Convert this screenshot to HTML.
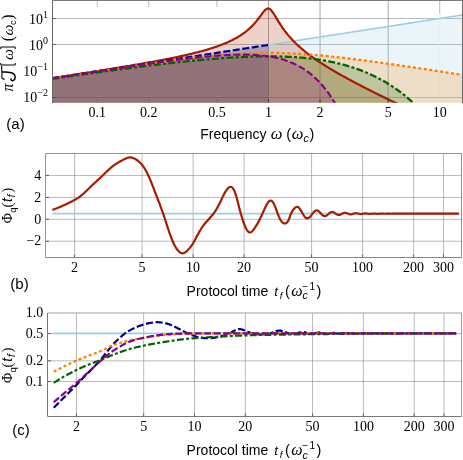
<!DOCTYPE html>
<html><head><meta charset="utf-8"><title>Spectral densities and protocol time</title>
<style>
html,body{margin:0;padding:0;background:#fff;}
body{width:463px;height:460px;overflow:hidden;font-family:"Liberation Sans",sans-serif;}
svg{display:block;will-change:transform;opacity:0.999;}
text{white-space:pre;}
</style></head>
<body>
<svg width="463" height="460" viewBox="0 0 463 460">
<rect x="0" y="0" width="463" height="460" fill="#fff"/>
<clipPath id="ca"><rect x="52.0" y="0.0" width="411.0" height="102.8"/></clipPath>
<line x1="52.5" x2="462.5" y1="18.5" y2="18.5" stroke="#8c8c8c" stroke-width="0.6"/>
<line x1="52.5" x2="462.5" y1="44.5" y2="44.5" stroke="#8c8c8c" stroke-width="0.6"/>
<line x1="52.5" x2="462.5" y1="97.5" y2="97.5" stroke="#8c8c8c" stroke-width="0.6"/>
<line x1="268.50" x2="268.50" y1="0.5" y2="102.8" stroke="#858585" stroke-width="0.7"/>
<line x1="320.04" x2="320.04" y1="0.5" y2="102.8" stroke="#858585" stroke-width="0.7"/>
<line x1="388.16" x2="388.16" y1="0.5" y2="102.8" stroke="#858585" stroke-width="0.7"/>
<line x1="439.70" x2="439.70" y1="0.5" y2="14" stroke="#8c8c8c" stroke-width="0.6"/>
<line x1="439.70" x2="439.70" y1="14" y2="102.8" stroke="#f2f2f2" stroke-width="0.6"/>
<line x1="97.30" x2="97.30" y1="0.5" y2="7" stroke="#8c8c8c" stroke-width="0.6"/>
<line x1="97.30" x2="97.30" y1="102.8" y2="99.3" stroke="#8c8c8c" stroke-width="0.6"/>
<line x1="148.84" x2="148.84" y1="0.5" y2="7" stroke="#8c8c8c" stroke-width="0.6"/>
<line x1="148.84" x2="148.84" y1="102.8" y2="99.3" stroke="#8c8c8c" stroke-width="0.6"/>
<line x1="216.96" x2="216.96" y1="0.5" y2="7" stroke="#8c8c8c" stroke-width="0.6"/>
<line x1="216.96" x2="216.96" y1="102.8" y2="99.3" stroke="#8c8c8c" stroke-width="0.6"/>
<path d="M52.5 102.8 V0.5 H462.5 V102.8" fill="none" stroke="#7c7c7c" stroke-width="1"/>
<g clip-path="url(#ca)">
<path d="M52.50 78.21 L53.79 78.01 L55.07 77.81 L56.36 77.61 L57.64 77.42 L58.93 77.22 L60.21 77.02 L61.50 76.82 L62.78 76.62 L64.07 76.42 L65.35 76.23 L66.64 76.03 L67.92 75.83 L69.21 75.63 L70.49 75.43 L71.78 75.24 L73.06 75.04 L74.35 74.84 L75.63 74.64 L76.92 74.44 L78.21 74.24 L79.49 74.05 L80.78 73.85 L82.06 73.65 L83.35 73.45 L84.63 73.25 L85.92 73.06 L87.20 72.86 L88.49 72.66 L89.77 72.46 L91.06 72.26 L92.34 72.06 L93.63 71.87 L94.91 71.67 L96.20 71.47 L97.48 71.27 L98.77 71.07 L100.05 70.88 L101.34 70.68 L102.63 70.48 L103.91 70.28 L105.20 70.08 L106.48 69.88 L107.77 69.69 L109.05 69.49 L110.34 69.29 L111.62 69.09 L112.91 68.89 L114.19 68.70 L115.48 68.50 L116.76 68.30 L118.05 68.10 L119.33 67.90 L120.62 67.70 L121.90 67.51 L123.19 67.31 L124.47 67.11 L125.76 66.91 L127.05 66.71 L128.33 66.51 L129.62 66.32 L130.90 66.12 L132.19 65.92 L133.47 65.72 L134.76 65.52 L136.04 65.33 L137.33 65.13 L138.61 64.93 L139.90 64.73 L141.18 64.53 L142.47 64.33 L143.75 64.14 L145.04 63.94 L146.32 63.74 L147.61 63.54 L148.89 63.34 L150.18 63.15 L151.47 62.95 L152.75 62.75 L154.04 62.55 L155.32 62.35 L156.61 62.15 L157.89 61.96 L159.18 61.76 L160.46 61.56 L161.75 61.36 L163.03 61.16 L164.32 60.97 L165.60 60.77 L166.89 60.57 L168.17 60.37 L169.46 60.17 L170.74 59.97 L172.03 59.78 L173.32 59.58 L174.60 59.38 L175.89 59.18 L177.17 58.98 L178.46 58.79 L179.74 58.59 L181.03 58.39 L182.31 58.19 L183.60 57.99 L184.88 57.79 L186.17 57.60 L187.45 57.40 L188.74 57.20 L190.02 57.00 L191.31 56.80 L192.59 56.61 L193.88 56.41 L195.16 56.21 L196.45 56.01 L197.74 55.81 L199.02 55.61 L200.31 55.42 L201.59 55.22 L202.88 55.02 L204.16 54.82 L205.45 54.62 L206.73 54.42 L208.02 54.23 L209.30 54.03 L210.59 53.83 L211.87 53.63 L213.16 53.43 L214.44 53.24 L215.73 53.04 L217.01 52.84 L218.30 52.64 L219.58 52.44 L220.87 52.24 L222.16 52.05 L223.44 51.85 L224.73 51.65 L226.01 51.45 L227.30 51.25 L228.58 51.06 L229.87 50.86 L231.15 50.66 L232.44 50.46 L233.72 50.26 L235.01 50.06 L236.29 49.87 L237.58 49.67 L238.86 49.47 L240.15 49.27 L241.43 49.07 L242.72 48.88 L244.00 48.68 L245.29 48.48 L246.58 48.28 L247.86 48.08 L249.15 47.88 L250.43 47.69 L251.72 47.49 L253.00 47.29 L254.29 47.09 L255.57 46.89 L256.86 46.70 L258.14 46.50 L259.43 46.30 L260.71 46.10 L262.00 45.90 L263.28 45.70 L264.57 45.51 L265.85 45.31 L267.14 45.11 L268.42 44.91 L269.71 44.71 L271.00 44.52 L272.28 44.32 L273.57 44.12 L274.85 43.92 L276.14 43.72 L277.42 43.52 L278.71 43.33 L279.99 43.13 L281.28 42.93 L282.56 42.73 L283.85 42.53 L285.13 42.34 L286.42 42.14 L287.70 41.94 L288.99 41.74 L290.27 41.54 L291.56 41.34 L292.84 41.15 L294.13 40.95 L295.42 40.75 L296.70 40.55 L297.99 40.35 L299.27 40.15 L300.56 39.96 L301.84 39.76 L303.13 39.56 L304.41 39.36 L305.70 39.16 L306.98 38.97 L308.27 38.77 L309.55 38.57 L310.84 38.37 L312.12 38.17 L313.41 37.97 L314.69 37.78 L315.98 37.58 L317.26 37.38 L318.55 37.18 L319.84 36.98 L321.12 36.79 L322.41 36.59 L323.69 36.39 L324.98 36.19 L326.26 35.99 L327.55 35.79 L328.83 35.60 L330.12 35.40 L331.40 35.20 L332.69 35.00 L333.97 34.80 L335.26 34.61 L336.54 34.41 L337.83 34.21 L339.11 34.01 L340.40 33.81 L341.68 33.61 L342.97 33.42 L344.26 33.22 L345.54 33.02 L346.83 32.82 L348.11 32.62 L349.40 32.43 L350.68 32.23 L351.97 32.03 L353.25 31.83 L354.54 31.63 L355.82 31.43 L357.11 31.24 L358.39 31.04 L359.68 30.84 L360.96 30.64 L362.25 30.44 L363.53 30.25 L364.82 30.05 L366.11 29.85 L367.39 29.65 L368.68 29.45 L369.96 29.25 L371.25 29.06 L372.53 28.86 L373.82 28.66 L375.10 28.46 L376.39 28.26 L377.67 28.07 L378.96 27.87 L380.24 27.67 L381.53 27.47 L382.81 27.27 L384.10 27.07 L385.38 26.88 L386.67 26.68 L387.95 26.48 L389.24 26.28 L390.53 26.08 L391.81 25.88 L393.10 25.69 L394.38 25.49 L395.67 25.29 L396.95 25.09 L398.24 24.89 L399.52 24.70 L400.81 24.50 L402.09 24.30 L403.38 24.10 L404.66 23.90 L405.95 23.70 L407.23 23.51 L408.52 23.31 L409.80 23.11 L411.09 22.91 L412.37 22.71 L413.66 22.52 L414.95 22.32 L416.23 22.12 L417.52 21.92 L418.80 21.72 L420.09 21.52 L421.37 21.33 L422.66 21.13 L423.94 20.93 L425.23 20.73 L426.51 20.53 L427.80 20.34 L429.08 20.14 L430.37 19.94 L431.65 19.74 L432.94 19.54 L434.22 19.34 L435.51 19.15 L436.79 18.95 L438.08 18.75 L439.37 18.55 L440.65 18.35 L441.94 18.16 L443.22 17.96 L444.51 17.76 L445.79 17.56 L447.08 17.36 L448.36 17.16 L449.65 16.97 L450.93 16.77 L452.22 16.57 L453.50 16.37 L454.79 16.17 L456.07 15.98 L457.36 15.78 L458.64 15.58 L459.93 15.38 L461.21 15.18 L462.50 14.98 L462.50 104.80 L52.50 104.80 Z" fill="#9ccfe2" fill-opacity="0.2" stroke="none"/>
<path d="M52.50 78.14 L53.79 77.94 L55.07 77.74 L56.36 77.54 L57.64 77.34 L58.93 77.14 L60.21 76.94 L61.50 76.74 L62.78 76.53 L64.07 76.33 L65.35 76.13 L66.64 75.93 L67.92 75.73 L69.21 75.53 L70.49 75.32 L71.78 75.12 L73.06 74.92 L74.35 74.72 L75.63 74.52 L76.92 74.31 L78.21 74.11 L79.49 73.91 L80.78 73.70 L82.06 73.50 L83.35 73.30 L84.63 73.09 L85.92 72.89 L87.20 72.69 L88.49 72.48 L89.77 72.28 L91.06 72.07 L92.34 71.87 L93.63 71.66 L94.91 71.46 L96.20 71.25 L97.48 71.04 L98.77 70.84 L100.05 70.63 L101.34 70.43 L102.63 70.22 L103.91 70.01 L105.20 69.80 L106.48 69.60 L107.77 69.39 L109.05 69.18 L110.34 68.97 L111.62 68.76 L112.91 68.55 L114.19 68.34 L115.48 68.13 L116.76 67.92 L118.05 67.70 L119.33 67.49 L120.62 67.28 L121.90 67.07 L123.19 66.85 L124.47 66.64 L125.76 66.42 L127.05 66.21 L128.33 65.99 L129.62 65.78 L130.90 65.56 L132.19 65.34 L133.47 65.12 L134.76 64.90 L136.04 64.68 L137.33 64.46 L138.61 64.24 L139.90 64.01 L141.18 63.79 L142.47 63.57 L143.75 63.34 L145.04 63.11 L146.32 62.89 L147.61 62.66 L148.89 62.43 L150.18 62.20 L151.47 61.96 L152.75 61.73 L154.04 61.50 L155.32 61.26 L156.61 61.02 L157.89 60.78 L159.18 60.54 L160.46 60.30 L161.75 60.06 L163.03 59.81 L164.32 59.56 L165.60 59.31 L166.89 59.06 L168.17 58.81 L169.46 58.56 L170.74 58.30 L172.03 58.04 L173.32 57.78 L174.60 57.51 L175.89 57.25 L177.17 56.98 L178.46 56.71 L179.74 56.43 L181.03 56.15 L182.31 55.87 L183.60 55.59 L184.88 55.30 L186.17 55.01 L187.45 54.72 L188.74 54.42 L190.02 54.12 L191.31 53.81 L192.59 53.50 L193.88 53.18 L195.16 52.86 L196.45 52.54 L197.74 52.21 L199.02 51.87 L200.31 51.53 L201.59 51.19 L202.88 50.83 L204.16 50.47 L205.45 50.11 L206.73 49.73 L208.02 49.35 L209.30 48.97 L210.59 48.57 L211.87 48.16 L213.16 47.75 L214.44 47.32 L215.73 46.89 L217.01 46.44 L218.30 45.99 L219.58 45.52 L220.87 45.04 L222.16 44.54 L223.44 44.03 L224.73 43.51 L226.01 42.97 L227.30 42.41 L228.58 41.84 L229.87 41.24 L231.15 40.63 L232.44 39.99 L233.72 39.33 L235.01 38.65 L236.29 37.94 L237.58 37.20 L238.86 36.43 L240.15 35.62 L241.43 34.78 L242.72 33.91 L244.00 32.99 L245.29 32.02 L246.58 31.00 L247.86 29.94 L249.15 28.81 L250.43 27.62 L251.72 26.37 L253.00 25.05 L254.29 23.64 L255.57 22.17 L256.86 20.61 L258.14 18.97 L259.43 17.27 L260.71 15.53 L262.00 13.78 L263.28 12.10 L264.57 10.58 L265.85 9.37 L267.14 8.62 L268.42 8.45 L269.71 8.94 L271.00 10.02 L272.28 11.59 L273.57 13.47 L274.85 15.54 L276.14 17.68 L277.42 19.82 L278.71 21.93 L279.99 23.96 L281.28 25.93 L282.56 27.81 L283.85 29.62 L285.13 31.35 L286.42 33.01 L287.70 34.60 L288.99 36.13 L290.27 37.60 L291.56 39.01 L292.84 40.38 L294.13 41.70 L295.42 42.98 L296.70 44.23 L297.99 45.43 L299.27 46.60 L300.56 47.74 L301.84 48.85 L303.13 49.94 L304.41 50.99 L305.70 52.03 L306.98 53.04 L308.27 54.04 L309.55 55.01 L310.84 55.96 L312.12 56.90 L313.41 57.82 L314.69 58.73 L315.98 59.62 L317.26 60.50 L318.55 61.37 L319.84 62.22 L321.12 63.07 L322.41 63.90 L323.69 64.72 L324.98 65.53 L326.26 66.34 L327.55 67.13 L328.83 67.92 L330.12 68.69 L331.40 69.46 L332.69 70.23 L333.97 70.98 L335.26 71.73 L336.54 72.48 L337.83 73.22 L339.11 73.95 L340.40 74.68 L341.68 75.40 L342.97 76.11 L344.26 76.83 L345.54 77.53 L346.83 78.24 L348.11 78.94 L349.40 79.63 L350.68 80.32 L351.97 81.01 L353.25 81.69 L354.54 82.37 L355.82 83.05 L357.11 83.73 L358.39 84.40 L359.68 85.07 L360.96 85.73 L362.25 86.40 L363.53 87.06 L364.82 87.71 L366.11 88.37 L367.39 89.02 L368.68 89.68 L369.96 90.33 L371.25 90.97 L372.53 91.62 L373.82 92.26 L375.10 92.90 L376.39 93.54 L377.67 94.18 L378.96 94.82 L380.24 95.46 L381.53 96.09 L382.81 96.72 L384.10 97.35 L385.38 97.98 L386.67 98.61 L387.95 99.24 L389.24 99.87 L390.53 100.49 L391.81 101.12 L393.10 101.74 L394.38 102.36 L395.67 102.98 L396.95 103.60 L398.24 104.22 L399.52 104.84 L400.81 105.46 L402.09 106.08 L403.38 106.69 L404.66 107.31 L405.95 107.92 L407.23 108.54 L408.52 109.15 L409.80 109.76 L411.09 110.37 L412.37 110.99 L413.66 111.60 L414.95 112.21 L416.23 112.82 L417.52 113.43 L418.80 114.03 L420.09 114.64 L421.37 115.25 L422.66 115.86 L423.94 116.46 L425.23 117.07 L426.51 117.68 L427.80 118.28 L429.08 118.89 L430.37 119.49 L431.65 120.10 L432.94 120.70 L434.22 121.31 L435.51 121.91 L436.79 122.51 L438.08 123.11 L439.37 123.72 L440.65 124.32 L441.94 124.92 L443.22 125.52 L444.51 126.13 L445.79 126.73 L447.08 127.33 L448.36 127.93 L449.65 128.53 L450.93 129.13 L452.22 129.73 L453.50 130.33 L454.79 130.93 L456.07 131.53 L457.36 132.13 L458.64 132.73 L459.93 133.33 L461.21 133.93 L462.50 134.53 L462.50 104.80 L52.50 104.80 Z" fill="#a61c00" fill-opacity="0.2" stroke="none"/>
<path d="M52.50 78.21 L53.79 78.01 L55.07 77.81 L56.36 77.61 L57.64 77.42 L58.93 77.22 L60.21 77.02 L61.50 76.82 L62.78 76.62 L64.07 76.42 L65.35 76.23 L66.64 76.03 L67.92 75.83 L69.21 75.63 L70.49 75.43 L71.78 75.24 L73.06 75.04 L74.35 74.84 L75.63 74.64 L76.92 74.44 L78.21 74.24 L79.49 74.05 L80.78 73.85 L82.06 73.65 L83.35 73.45 L84.63 73.25 L85.92 73.06 L87.20 72.86 L88.49 72.66 L89.77 72.46 L91.06 72.26 L92.34 72.06 L93.63 71.87 L94.91 71.67 L96.20 71.47 L97.48 71.27 L98.77 71.07 L100.05 70.88 L101.34 70.68 L102.63 70.48 L103.91 70.28 L105.20 70.08 L106.48 69.88 L107.77 69.69 L109.05 69.49 L110.34 69.29 L111.62 69.09 L112.91 68.89 L114.19 68.70 L115.48 68.50 L116.76 68.30 L118.05 68.10 L119.33 67.90 L120.62 67.70 L121.90 67.51 L123.19 67.31 L124.47 67.11 L125.76 66.91 L127.05 66.71 L128.33 66.51 L129.62 66.32 L130.90 66.12 L132.19 65.92 L133.47 65.72 L134.76 65.52 L136.04 65.33 L137.33 65.13 L138.61 64.93 L139.90 64.73 L141.18 64.53 L142.47 64.33 L143.75 64.14 L145.04 63.94 L146.32 63.74 L147.61 63.54 L148.89 63.34 L150.18 63.15 L151.47 62.95 L152.75 62.75 L154.04 62.55 L155.32 62.35 L156.61 62.15 L157.89 61.96 L159.18 61.76 L160.46 61.56 L161.75 61.36 L163.03 61.16 L164.32 60.97 L165.60 60.77 L166.89 60.57 L168.17 60.37 L169.46 60.17 L170.74 59.97 L172.03 59.78 L173.32 59.58 L174.60 59.38 L175.89 59.18 L177.17 58.98 L178.46 58.79 L179.74 58.59 L181.03 58.39 L182.31 58.19 L183.60 57.99 L184.88 57.79 L186.17 57.60 L187.45 57.40 L188.74 57.20 L190.02 57.00 L191.31 56.80 L192.59 56.61 L193.88 56.41 L195.16 56.21 L196.45 56.01 L197.74 55.81 L199.02 55.61 L200.31 55.42 L201.59 55.22 L202.88 55.02 L204.16 54.82 L205.45 54.62 L206.73 54.42 L208.02 54.23 L209.30 54.03 L210.59 53.83 L211.87 53.63 L213.16 53.43 L214.44 53.24 L215.73 53.04 L217.01 52.84 L218.30 52.64 L219.58 52.44 L220.87 52.24 L222.16 52.05 L223.44 51.85 L224.73 51.65 L226.01 51.45 L227.30 51.25 L228.58 51.06 L229.87 50.86 L231.15 50.66 L232.44 50.46 L233.72 50.26 L235.01 50.06 L236.29 49.87 L237.58 49.67 L238.86 49.47 L240.15 49.27 L241.43 49.07 L242.72 48.88 L244.00 48.68 L245.29 48.48 L246.58 48.28 L247.86 48.08 L249.15 47.88 L250.43 47.69 L251.72 47.49 L253.00 47.29 L254.29 47.09 L255.57 46.89 L256.86 46.70 L258.14 46.50 L259.43 46.30 L260.71 46.10 L262.00 45.90 L263.28 45.70 L264.57 45.51 L265.85 45.31 L267.14 45.11 L268.42 44.91 L268.42 104.80 L52.50 104.80 Z" fill="#00008b" fill-opacity="0.2" stroke="none"/>
<path d="M52.50 78.24 L53.79 78.05 L55.07 77.85 L56.36 77.65 L57.64 77.46 L58.93 77.26 L60.21 77.06 L61.50 76.86 L62.78 76.67 L64.07 76.47 L65.35 76.27 L66.64 76.08 L67.92 75.88 L69.21 75.69 L70.49 75.49 L71.78 75.29 L73.06 75.10 L74.35 74.90 L75.63 74.70 L76.92 74.51 L78.21 74.31 L79.49 74.12 L80.78 73.92 L82.06 73.73 L83.35 73.53 L84.63 73.33 L85.92 73.14 L87.20 72.94 L88.49 72.75 L89.77 72.55 L91.06 72.36 L92.34 72.16 L93.63 71.97 L94.91 71.77 L96.20 71.58 L97.48 71.39 L98.77 71.19 L100.05 71.00 L101.34 70.80 L102.63 70.61 L103.91 70.42 L105.20 70.22 L106.48 70.03 L107.77 69.84 L109.05 69.64 L110.34 69.45 L111.62 69.26 L112.91 69.07 L114.19 68.87 L115.48 68.68 L116.76 68.49 L118.05 68.30 L119.33 68.11 L120.62 67.92 L121.90 67.73 L123.19 67.54 L124.47 67.35 L125.76 67.16 L127.05 66.97 L128.33 66.78 L129.62 66.59 L130.90 66.40 L132.19 66.21 L133.47 66.02 L134.76 65.83 L136.04 65.65 L137.33 65.46 L138.61 65.27 L139.90 65.09 L141.18 64.90 L142.47 64.71 L143.75 64.53 L145.04 64.35 L146.32 64.16 L147.61 63.98 L148.89 63.79 L150.18 63.61 L151.47 63.43 L152.75 63.25 L154.04 63.07 L155.32 62.89 L156.61 62.71 L157.89 62.53 L159.18 62.35 L160.46 62.17 L161.75 61.99 L163.03 61.82 L164.32 61.64 L165.60 61.47 L166.89 61.29 L168.17 61.12 L169.46 60.94 L170.74 60.77 L172.03 60.60 L173.32 60.43 L174.60 60.26 L175.89 60.09 L177.17 59.93 L178.46 59.76 L179.74 59.59 L181.03 59.43 L182.31 59.27 L183.60 59.10 L184.88 58.94 L186.17 58.78 L187.45 58.63 L188.74 58.47 L190.02 58.31 L191.31 58.16 L192.59 58.00 L193.88 57.85 L195.16 57.70 L196.45 57.55 L197.74 57.41 L199.02 57.26 L200.31 57.11 L201.59 56.97 L202.88 56.83 L204.16 56.69 L205.45 56.55 L206.73 56.42 L208.02 56.28 L209.30 56.15 L210.59 56.02 L211.87 55.89 L213.16 55.77 L214.44 55.64 L215.73 55.52 L217.01 55.40 L218.30 55.28 L219.58 55.17 L220.87 55.05 L222.16 54.94 L223.44 54.84 L224.73 54.73 L226.01 54.63 L227.30 54.52 L228.58 54.43 L229.87 54.33 L231.15 54.24 L232.44 54.15 L233.72 54.06 L235.01 53.97 L236.29 53.89 L237.58 53.81 L238.86 53.73 L240.15 53.66 L241.43 53.59 L242.72 53.52 L244.00 53.46 L245.29 53.40 L246.58 53.34 L247.86 53.28 L249.15 53.23 L250.43 53.18 L251.72 53.14 L253.00 53.09 L254.29 53.06 L255.57 53.02 L256.86 52.99 L258.14 52.96 L259.43 52.93 L260.71 52.91 L262.00 52.89 L263.28 52.88 L264.57 52.86 L265.85 52.85 L267.14 52.85 L268.42 52.85 L269.71 52.85 L271.00 52.85 L272.28 52.86 L273.57 52.87 L274.85 52.89 L276.14 52.91 L277.42 52.93 L278.71 52.95 L279.99 52.98 L281.28 53.02 L282.56 53.05 L283.85 53.09 L285.13 53.13 L286.42 53.18 L287.70 53.23 L288.99 53.28 L290.27 53.33 L291.56 53.39 L292.84 53.45 L294.13 53.52 L295.42 53.58 L296.70 53.65 L297.99 53.73 L299.27 53.80 L300.56 53.88 L301.84 53.96 L303.13 54.05 L304.41 54.14 L305.70 54.23 L306.98 54.32 L308.27 54.41 L309.55 54.51 L310.84 54.61 L312.12 54.72 L313.41 54.82 L314.69 54.93 L315.98 55.04 L317.26 55.15 L318.55 55.27 L319.84 55.39 L321.12 55.51 L322.41 55.63 L323.69 55.75 L324.98 55.88 L326.26 56.01 L327.55 56.14 L328.83 56.27 L330.12 56.40 L331.40 56.54 L332.69 56.68 L333.97 56.81 L335.26 56.96 L336.54 57.10 L337.83 57.24 L339.11 57.39 L340.40 57.54 L341.68 57.68 L342.97 57.83 L344.26 57.99 L345.54 58.14 L346.83 58.29 L348.11 58.45 L349.40 58.61 L350.68 58.77 L351.97 58.93 L353.25 59.09 L354.54 59.25 L355.82 59.41 L357.11 59.58 L358.39 59.74 L359.68 59.91 L360.96 60.07 L362.25 60.24 L363.53 60.41 L364.82 60.58 L366.11 60.75 L367.39 60.92 L368.68 61.10 L369.96 61.27 L371.25 61.45 L372.53 61.62 L373.82 61.80 L375.10 61.97 L376.39 62.15 L377.67 62.33 L378.96 62.51 L380.24 62.69 L381.53 62.87 L382.81 63.05 L384.10 63.23 L385.38 63.41 L386.67 63.59 L387.95 63.77 L389.24 63.96 L390.53 64.14 L391.81 64.32 L393.10 64.51 L394.38 64.69 L395.67 64.88 L396.95 65.06 L398.24 65.25 L399.52 65.44 L400.81 65.62 L402.09 65.81 L403.38 66.00 L404.66 66.19 L405.95 66.38 L407.23 66.56 L408.52 66.75 L409.80 66.94 L411.09 67.13 L412.37 67.32 L413.66 67.51 L414.95 67.70 L416.23 67.89 L417.52 68.09 L418.80 68.28 L420.09 68.47 L421.37 68.66 L422.66 68.85 L423.94 69.04 L425.23 69.24 L426.51 69.43 L427.80 69.62 L429.08 69.81 L430.37 70.01 L431.65 70.20 L432.94 70.39 L434.22 70.59 L435.51 70.78 L436.79 70.98 L438.08 71.17 L439.37 71.36 L440.65 71.56 L441.94 71.75 L443.22 71.95 L444.51 72.14 L445.79 72.34 L447.08 72.53 L448.36 72.73 L449.65 72.92 L450.93 73.12 L452.22 73.31 L453.50 73.51 L454.79 73.70 L456.07 73.90 L457.36 74.09 L458.64 74.29 L459.93 74.49 L461.21 74.68 L462.50 74.88 L462.50 104.80 L52.50 104.80 Z" fill="#ff8000" fill-opacity="0.2" stroke="none"/>
<path d="M52.50 78.84 L53.79 78.65 L55.07 78.46 L56.36 78.27 L57.64 78.09 L58.93 77.90 L60.21 77.72 L61.50 77.53 L62.78 77.34 L64.07 77.16 L65.35 76.97 L66.64 76.79 L67.92 76.60 L69.21 76.42 L70.49 76.23 L71.78 76.05 L73.06 75.86 L74.35 75.68 L75.63 75.50 L76.92 75.31 L78.21 75.13 L79.49 74.95 L80.78 74.77 L82.06 74.58 L83.35 74.40 L84.63 74.22 L85.92 74.04 L87.20 73.86 L88.49 73.68 L89.77 73.50 L91.06 73.32 L92.34 73.14 L93.63 72.96 L94.91 72.78 L96.20 72.60 L97.48 72.42 L98.77 72.24 L100.05 72.07 L101.34 71.89 L102.63 71.71 L103.91 71.53 L105.20 71.36 L106.48 71.18 L107.77 71.01 L109.05 70.83 L110.34 70.66 L111.62 70.48 L112.91 70.31 L114.19 70.13 L115.48 69.96 L116.76 69.79 L118.05 69.62 L119.33 69.44 L120.62 69.27 L121.90 69.10 L123.19 68.93 L124.47 68.76 L125.76 68.59 L127.05 68.42 L128.33 68.26 L129.62 68.09 L130.90 67.92 L132.19 67.75 L133.47 67.59 L134.76 67.42 L136.04 67.26 L137.33 67.09 L138.61 66.93 L139.90 66.76 L141.18 66.60 L142.47 66.44 L143.75 66.28 L145.04 66.12 L146.32 65.96 L147.61 65.80 L148.89 65.64 L150.18 65.48 L151.47 65.32 L152.75 65.17 L154.04 65.01 L155.32 64.85 L156.61 64.70 L157.89 64.55 L159.18 64.39 L160.46 64.24 L161.75 64.09 L163.03 63.94 L164.32 63.79 L165.60 63.64 L166.89 63.49 L168.17 63.35 L169.46 63.20 L170.74 63.05 L172.03 62.91 L173.32 62.77 L174.60 62.62 L175.89 62.48 L177.17 62.34 L178.46 62.20 L179.74 62.06 L181.03 61.92 L182.31 61.79 L183.60 61.65 L184.88 61.52 L186.17 61.38 L187.45 61.25 L188.74 61.12 L190.02 60.99 L191.31 60.86 L192.59 60.74 L193.88 60.61 L195.16 60.48 L196.45 60.36 L197.74 60.24 L199.02 60.12 L200.31 60.00 L201.59 59.88 L202.88 59.76 L204.16 59.65 L205.45 59.53 L206.73 59.42 L208.02 59.31 L209.30 59.20 L210.59 59.09 L211.87 58.99 L213.16 58.88 L214.44 58.78 L215.73 58.68 L217.01 58.58 L218.30 58.48 L219.58 58.38 L220.87 58.29 L222.16 58.19 L223.44 58.10 L224.73 58.01 L226.01 57.93 L227.30 57.84 L228.58 57.76 L229.87 57.68 L231.15 57.60 L232.44 57.52 L233.72 57.44 L235.01 57.37 L236.29 57.30 L237.58 57.23 L238.86 57.17 L240.15 57.10 L241.43 57.04 L242.72 56.98 L244.00 56.92 L245.29 56.87 L246.58 56.82 L247.86 56.77 L249.15 56.72 L250.43 56.68 L251.72 56.64 L253.00 56.60 L254.29 56.56 L255.57 56.53 L256.86 56.50 L258.14 56.47 L259.43 56.45 L260.71 56.43 L262.00 56.41 L263.28 56.39 L264.57 56.38 L265.85 56.37 L267.14 56.37 L268.42 56.37 L269.71 56.37 L271.00 56.37 L272.28 56.38 L273.57 56.39 L274.85 56.41 L276.14 56.43 L277.42 56.45 L278.71 56.48 L279.99 56.51 L281.28 56.54 L282.56 56.58 L283.85 56.63 L285.13 56.67 L286.42 56.73 L287.70 56.78 L288.99 56.84 L290.27 56.91 L291.56 56.98 L292.84 57.05 L294.13 57.13 L295.42 57.22 L296.70 57.31 L297.99 57.40 L299.27 57.50 L300.56 57.60 L301.84 57.71 L303.13 57.83 L304.41 57.95 L305.70 58.07 L306.98 58.20 L308.27 58.34 L309.55 58.48 L310.84 58.63 L312.12 58.79 L313.41 58.95 L314.69 59.12 L315.98 59.29 L317.26 59.47 L318.55 59.66 L319.84 59.85 L321.12 60.05 L322.41 60.26 L323.69 60.48 L324.98 60.70 L326.26 60.93 L327.55 61.16 L328.83 61.41 L330.12 61.66 L331.40 61.92 L332.69 62.19 L333.97 62.46 L335.26 62.75 L336.54 63.04 L337.83 63.34 L339.11 63.65 L340.40 63.97 L341.68 64.30 L342.97 64.63 L344.26 64.98 L345.54 65.33 L346.83 65.70 L348.11 66.07 L349.40 66.46 L350.68 66.85 L351.97 67.26 L353.25 67.68 L354.54 68.10 L355.82 68.54 L357.11 68.99 L358.39 69.45 L359.68 69.92 L360.96 70.40 L362.25 70.90 L363.53 71.41 L364.82 71.93 L366.11 72.46 L367.39 73.00 L368.68 73.56 L369.96 74.13 L371.25 74.72 L372.53 75.31 L373.82 75.93 L375.10 76.55 L376.39 77.19 L377.67 77.85 L378.96 78.52 L380.24 79.20 L381.53 79.90 L382.81 80.62 L384.10 81.35 L385.38 82.10 L386.67 82.86 L387.95 83.65 L389.24 84.44 L390.53 85.26 L391.81 86.09 L393.10 86.95 L394.38 87.82 L395.67 88.70 L396.95 89.61 L398.24 90.54 L399.52 91.48 L400.81 92.45 L402.09 93.44 L403.38 94.44 L404.66 95.47 L405.95 96.52 L407.23 97.59 L408.52 98.69 L409.80 99.80 L411.09 100.94 L412.37 102.11 L413.66 103.29 L414.95 104.50 L416.23 105.74 L417.52 107.00 L418.80 108.28 L420.09 109.59 L421.37 110.93 L422.66 112.29 L423.94 113.69 L425.23 115.11 L426.51 116.55 L427.80 118.03 L429.08 119.53 L430.37 121.07 L431.65 122.63 L432.94 124.23 L434.22 125.86 L435.51 127.52 L436.79 129.21 L438.08 130.93 L439.37 132.69 L440.65 134.48 L441.94 136.31 L443.22 138.17 L444.51 140.07 L445.79 142.00 L447.08 143.98 L448.36 145.98 L449.65 148.03 L450.93 150.12 L452.22 152.25 L453.50 154.41 L454.79 156.62 L456.07 158.87 L457.36 161.17 L458.64 163.50 L459.93 165.89 L461.21 168.31 L462.50 170.78 L462.50 104.80 L52.50 104.80 Z" fill="#006400" fill-opacity="0.2" stroke="none"/>
<path d="M52.50 78.24 L53.79 78.05 L55.07 77.85 L56.36 77.65 L57.64 77.46 L58.93 77.26 L60.21 77.06 L61.50 76.86 L62.78 76.67 L64.07 76.47 L65.35 76.28 L66.64 76.08 L67.92 75.88 L69.21 75.69 L70.49 75.49 L71.78 75.29 L73.06 75.10 L74.35 74.90 L75.63 74.70 L76.92 74.51 L78.21 74.31 L79.49 74.12 L80.78 73.92 L82.06 73.73 L83.35 73.53 L84.63 73.34 L85.92 73.14 L87.20 72.94 L88.49 72.75 L89.77 72.55 L91.06 72.36 L92.34 72.16 L93.63 71.97 L94.91 71.78 L96.20 71.58 L97.48 71.39 L98.77 71.19 L100.05 71.00 L101.34 70.80 L102.63 70.61 L103.91 70.42 L105.20 70.22 L106.48 70.03 L107.77 69.84 L109.05 69.65 L110.34 69.45 L111.62 69.26 L112.91 69.07 L114.19 68.88 L115.48 68.68 L116.76 68.49 L118.05 68.30 L119.33 68.11 L120.62 67.92 L121.90 67.73 L123.19 67.54 L124.47 67.35 L125.76 67.16 L127.05 66.97 L128.33 66.78 L129.62 66.59 L130.90 66.40 L132.19 66.21 L133.47 66.03 L134.76 65.84 L136.04 65.65 L137.33 65.46 L138.61 65.28 L139.90 65.09 L141.18 64.91 L142.47 64.72 L143.75 64.54 L145.04 64.35 L146.32 64.17 L147.61 63.99 L148.89 63.80 L150.18 63.62 L151.47 63.44 L152.75 63.26 L154.04 63.08 L155.32 62.90 L156.61 62.72 L157.89 62.54 L159.18 62.36 L160.46 62.19 L161.75 62.01 L163.03 61.84 L164.32 61.66 L165.60 61.49 L166.89 61.31 L168.17 61.14 L169.46 60.97 L170.74 60.80 L172.03 60.63 L173.32 60.46 L174.60 60.30 L175.89 60.13 L177.17 59.97 L178.46 59.80 L179.74 59.64 L181.03 59.48 L182.31 59.32 L183.60 59.16 L184.88 59.00 L186.17 58.85 L187.45 58.69 L188.74 58.54 L190.02 58.39 L191.31 58.24 L192.59 58.09 L193.88 57.95 L195.16 57.80 L196.45 57.66 L197.74 57.52 L199.02 57.38 L200.31 57.25 L201.59 57.11 L202.88 56.98 L204.16 56.85 L205.45 56.73 L206.73 56.60 L208.02 56.48 L209.30 56.36 L210.59 56.24 L211.87 56.13 L213.16 56.02 L214.44 55.91 L215.73 55.81 L217.01 55.71 L218.30 55.61 L219.58 55.52 L220.87 55.43 L222.16 55.34 L223.44 55.26 L224.73 55.18 L226.01 55.11 L227.30 55.04 L228.58 54.97 L229.87 54.91 L231.15 54.86 L232.44 54.81 L233.72 54.76 L235.01 54.72 L236.29 54.69 L237.58 54.66 L238.86 54.64 L240.15 54.62 L241.43 54.61 L242.72 54.61 L244.00 54.61 L245.29 54.62 L246.58 54.64 L247.86 54.66 L249.15 54.70 L250.43 54.74 L251.72 54.79 L253.00 54.85 L254.29 54.91 L255.57 54.99 L256.86 55.08 L258.14 55.17 L259.43 55.28 L260.71 55.40 L262.00 55.53 L263.28 55.67 L264.57 55.82 L265.85 55.99 L267.14 56.16 L268.42 56.35 L269.71 56.56 L271.00 56.78 L272.28 57.01 L273.57 57.26 L274.85 57.52 L276.14 57.80 L277.42 58.10 L278.71 58.41 L279.99 58.75 L281.28 59.10 L282.56 59.47 L283.85 59.86 L285.13 60.27 L286.42 60.70 L287.70 61.16 L288.99 61.64 L290.27 62.14 L291.56 62.66 L292.84 63.22 L294.13 63.79 L295.42 64.40 L296.70 65.03 L297.99 65.70 L299.27 66.39 L300.56 67.11 L301.84 67.87 L303.13 68.66 L304.41 69.49 L305.70 70.35 L306.98 71.25 L308.27 72.18 L309.55 73.16 L310.84 74.18 L312.12 75.24 L313.41 76.35 L314.69 77.50 L315.98 78.70 L317.26 79.95 L318.55 81.25 L319.84 82.60 L321.12 84.00 L322.41 85.47 L323.69 86.99 L324.98 88.57 L326.26 90.21 L327.55 91.92 L328.83 93.70 L330.12 95.55 L331.40 97.46 L332.69 99.46 L333.97 101.52 L335.26 103.67 L336.54 105.91 L337.83 108.22 L339.11 110.63 L340.40 113.12 L341.68 115.72 L342.97 118.41 L344.26 121.20 L345.54 124.09 L346.83 127.10 L348.11 130.22 L349.40 133.45 L350.68 136.81 L351.97 140.29 L353.25 143.90 L354.54 147.64 L355.82 151.53 L357.11 155.55 L358.39 159.73 L359.68 164.06 L360.96 168.54 L362.25 173.20 L363.53 178.02 L364.82 183.02 L366.11 188.20 L367.39 193.58 L368.68 199.15 L369.96 204.92 L371.25 210.90 L372.53 217.10 L373.82 223.52 L375.10 230.18 L376.39 237.07 L377.67 244.22 L378.96 251.63 L380.24 259.30 L381.53 267.25 L382.81 275.49 L384.10 282.50 L385.38 282.50 L386.67 282.50 L387.95 282.50 L389.24 282.50 L390.53 282.50 L391.81 282.50 L393.10 282.50 L394.38 282.50 L395.67 282.50 L396.95 282.50 L398.24 282.50 L399.52 282.50 L400.81 282.50 L402.09 282.50 L403.38 282.50 L404.66 282.50 L405.95 282.50 L407.23 282.50 L408.52 282.50 L409.80 282.50 L411.09 282.50 L412.37 282.50 L413.66 282.50 L414.95 282.50 L416.23 282.50 L417.52 282.50 L418.80 282.50 L420.09 282.50 L421.37 282.50 L422.66 282.50 L423.94 282.50 L425.23 282.50 L426.51 282.50 L427.80 282.50 L429.08 282.50 L430.37 282.50 L431.65 282.50 L432.94 282.50 L434.22 282.50 L435.51 282.50 L436.79 282.50 L438.08 282.50 L439.37 282.50 L440.65 282.50 L441.94 282.50 L443.22 282.50 L444.51 282.50 L445.79 282.50 L447.08 282.50 L448.36 282.50 L449.65 282.50 L450.93 282.50 L452.22 282.50 L453.50 282.50 L454.79 282.50 L456.07 282.50 L457.36 282.50 L458.64 282.50 L459.93 282.50 L461.21 282.50 L462.50 282.50 L462.50 104.80 L52.50 104.80 Z" fill="#880088" fill-opacity="0.2" stroke="none"/>
<path d="M52.50 78.21 L53.79 78.01 L55.07 77.81 L56.36 77.61 L57.64 77.42 L58.93 77.22 L60.21 77.02 L61.50 76.82 L62.78 76.62 L64.07 76.42 L65.35 76.23 L66.64 76.03 L67.92 75.83 L69.21 75.63 L70.49 75.43 L71.78 75.24 L73.06 75.04 L74.35 74.84 L75.63 74.64 L76.92 74.44 L78.21 74.24 L79.49 74.05 L80.78 73.85 L82.06 73.65 L83.35 73.45 L84.63 73.25 L85.92 73.06 L87.20 72.86 L88.49 72.66 L89.77 72.46 L91.06 72.26 L92.34 72.06 L93.63 71.87 L94.91 71.67 L96.20 71.47 L97.48 71.27 L98.77 71.07 L100.05 70.88 L101.34 70.68 L102.63 70.48 L103.91 70.28 L105.20 70.08 L106.48 69.88 L107.77 69.69 L109.05 69.49 L110.34 69.29 L111.62 69.09 L112.91 68.89 L114.19 68.70 L115.48 68.50 L116.76 68.30 L118.05 68.10 L119.33 67.90 L120.62 67.70 L121.90 67.51 L123.19 67.31 L124.47 67.11 L125.76 66.91 L127.05 66.71 L128.33 66.51 L129.62 66.32 L130.90 66.12 L132.19 65.92 L133.47 65.72 L134.76 65.52 L136.04 65.33 L137.33 65.13 L138.61 64.93 L139.90 64.73 L141.18 64.53 L142.47 64.33 L143.75 64.14 L145.04 63.94 L146.32 63.74 L147.61 63.54 L148.89 63.34 L150.18 63.15 L151.47 62.95 L152.75 62.75 L154.04 62.55 L155.32 62.35 L156.61 62.15 L157.89 61.96 L159.18 61.76 L160.46 61.56 L161.75 61.36 L163.03 61.16 L164.32 60.97 L165.60 60.77 L166.89 60.57 L168.17 60.37 L169.46 60.17 L170.74 59.97 L172.03 59.78 L173.32 59.58 L174.60 59.38 L175.89 59.18 L177.17 58.98 L178.46 58.79 L179.74 58.59 L181.03 58.39 L182.31 58.19 L183.60 57.99 L184.88 57.79 L186.17 57.60 L187.45 57.40 L188.74 57.20 L190.02 57.00 L191.31 56.80 L192.59 56.61 L193.88 56.41 L195.16 56.21 L196.45 56.01 L197.74 55.81 L199.02 55.61 L200.31 55.42 L201.59 55.22 L202.88 55.02 L204.16 54.82 L205.45 54.62 L206.73 54.42 L208.02 54.23 L209.30 54.03 L210.59 53.83 L211.87 53.63 L213.16 53.43 L214.44 53.24 L215.73 53.04 L217.01 52.84 L218.30 52.64 L219.58 52.44 L220.87 52.24 L222.16 52.05 L223.44 51.85 L224.73 51.65 L226.01 51.45 L227.30 51.25 L228.58 51.06 L229.87 50.86 L231.15 50.66 L232.44 50.46 L233.72 50.26 L235.01 50.06 L236.29 49.87 L237.58 49.67 L238.86 49.47 L240.15 49.27 L241.43 49.07 L242.72 48.88 L244.00 48.68 L245.29 48.48 L246.58 48.28 L247.86 48.08 L249.15 47.88 L250.43 47.69 L251.72 47.49 L253.00 47.29 L254.29 47.09 L255.57 46.89 L256.86 46.70 L258.14 46.50 L259.43 46.30 L260.71 46.10 L262.00 45.90 L263.28 45.70 L264.57 45.51 L265.85 45.31 L267.14 45.11 L268.42 44.91 L269.71 44.71 L271.00 44.52 L272.28 44.32 L273.57 44.12 L274.85 43.92 L276.14 43.72 L277.42 43.52 L278.71 43.33 L279.99 43.13 L281.28 42.93 L282.56 42.73 L283.85 42.53 L285.13 42.34 L286.42 42.14 L287.70 41.94 L288.99 41.74 L290.27 41.54 L291.56 41.34 L292.84 41.15 L294.13 40.95 L295.42 40.75 L296.70 40.55 L297.99 40.35 L299.27 40.15 L300.56 39.96 L301.84 39.76 L303.13 39.56 L304.41 39.36 L305.70 39.16 L306.98 38.97 L308.27 38.77 L309.55 38.57 L310.84 38.37 L312.12 38.17 L313.41 37.97 L314.69 37.78 L315.98 37.58 L317.26 37.38 L318.55 37.18 L319.84 36.98 L321.12 36.79 L322.41 36.59 L323.69 36.39 L324.98 36.19 L326.26 35.99 L327.55 35.79 L328.83 35.60 L330.12 35.40 L331.40 35.20 L332.69 35.00 L333.97 34.80 L335.26 34.61 L336.54 34.41 L337.83 34.21 L339.11 34.01 L340.40 33.81 L341.68 33.61 L342.97 33.42 L344.26 33.22 L345.54 33.02 L346.83 32.82 L348.11 32.62 L349.40 32.43 L350.68 32.23 L351.97 32.03 L353.25 31.83 L354.54 31.63 L355.82 31.43 L357.11 31.24 L358.39 31.04 L359.68 30.84 L360.96 30.64 L362.25 30.44 L363.53 30.25 L364.82 30.05 L366.11 29.85 L367.39 29.65 L368.68 29.45 L369.96 29.25 L371.25 29.06 L372.53 28.86 L373.82 28.66 L375.10 28.46 L376.39 28.26 L377.67 28.07 L378.96 27.87 L380.24 27.67 L381.53 27.47 L382.81 27.27 L384.10 27.07 L385.38 26.88 L386.67 26.68 L387.95 26.48 L389.24 26.28 L390.53 26.08 L391.81 25.88 L393.10 25.69 L394.38 25.49 L395.67 25.29 L396.95 25.09 L398.24 24.89 L399.52 24.70 L400.81 24.50 L402.09 24.30 L403.38 24.10 L404.66 23.90 L405.95 23.70 L407.23 23.51 L408.52 23.31 L409.80 23.11 L411.09 22.91 L412.37 22.71 L413.66 22.52 L414.95 22.32 L416.23 22.12 L417.52 21.92 L418.80 21.72 L420.09 21.52 L421.37 21.33 L422.66 21.13 L423.94 20.93 L425.23 20.73 L426.51 20.53 L427.80 20.34 L429.08 20.14 L430.37 19.94 L431.65 19.74 L432.94 19.54 L434.22 19.34 L435.51 19.15 L436.79 18.95 L438.08 18.75 L439.37 18.55 L440.65 18.35 L441.94 18.16 L443.22 17.96 L444.51 17.76 L445.79 17.56 L447.08 17.36 L448.36 17.16 L449.65 16.97 L450.93 16.77 L452.22 16.57 L453.50 16.37 L454.79 16.17 L456.07 15.98 L457.36 15.78 L458.64 15.58 L459.93 15.38 L461.21 15.18 L462.50 14.98" fill="none" stroke="#9ccfe2" stroke-width="1.6" stroke-linejoin="round"/>
<path d="M52.50 78.14 L53.79 77.94 L55.07 77.74 L56.36 77.54 L57.64 77.34 L58.93 77.14 L60.21 76.94 L61.50 76.74 L62.78 76.53 L64.07 76.33 L65.35 76.13 L66.64 75.93 L67.92 75.73 L69.21 75.53 L70.49 75.32 L71.78 75.12 L73.06 74.92 L74.35 74.72 L75.63 74.52 L76.92 74.31 L78.21 74.11 L79.49 73.91 L80.78 73.70 L82.06 73.50 L83.35 73.30 L84.63 73.09 L85.92 72.89 L87.20 72.69 L88.49 72.48 L89.77 72.28 L91.06 72.07 L92.34 71.87 L93.63 71.66 L94.91 71.46 L96.20 71.25 L97.48 71.04 L98.77 70.84 L100.05 70.63 L101.34 70.43 L102.63 70.22 L103.91 70.01 L105.20 69.80 L106.48 69.60 L107.77 69.39 L109.05 69.18 L110.34 68.97 L111.62 68.76 L112.91 68.55 L114.19 68.34 L115.48 68.13 L116.76 67.92 L118.05 67.70 L119.33 67.49 L120.62 67.28 L121.90 67.07 L123.19 66.85 L124.47 66.64 L125.76 66.42 L127.05 66.21 L128.33 65.99 L129.62 65.78 L130.90 65.56 L132.19 65.34 L133.47 65.12 L134.76 64.90 L136.04 64.68 L137.33 64.46 L138.61 64.24 L139.90 64.01 L141.18 63.79 L142.47 63.57 L143.75 63.34 L145.04 63.11 L146.32 62.89 L147.61 62.66 L148.89 62.43 L150.18 62.20 L151.47 61.96 L152.75 61.73 L154.04 61.50 L155.32 61.26 L156.61 61.02 L157.89 60.78 L159.18 60.54 L160.46 60.30 L161.75 60.06 L163.03 59.81 L164.32 59.56 L165.60 59.31 L166.89 59.06 L168.17 58.81 L169.46 58.56 L170.74 58.30 L172.03 58.04 L173.32 57.78 L174.60 57.51 L175.89 57.25 L177.17 56.98 L178.46 56.71 L179.74 56.43 L181.03 56.15 L182.31 55.87 L183.60 55.59 L184.88 55.30 L186.17 55.01 L187.45 54.72 L188.74 54.42 L190.02 54.12 L191.31 53.81 L192.59 53.50 L193.88 53.18 L195.16 52.86 L196.45 52.54 L197.74 52.21 L199.02 51.87 L200.31 51.53 L201.59 51.19 L202.88 50.83 L204.16 50.47 L205.45 50.11 L206.73 49.73 L208.02 49.35 L209.30 48.97 L210.59 48.57 L211.87 48.16 L213.16 47.75 L214.44 47.32 L215.73 46.89 L217.01 46.44 L218.30 45.99 L219.58 45.52 L220.87 45.04 L222.16 44.54 L223.44 44.03 L224.73 43.51 L226.01 42.97 L227.30 42.41 L228.58 41.84 L229.87 41.24 L231.15 40.63 L232.44 39.99 L233.72 39.33 L235.01 38.65 L236.29 37.94 L237.58 37.20 L238.86 36.43 L240.15 35.62 L241.43 34.78 L242.72 33.91 L244.00 32.99 L245.29 32.02 L246.58 31.00 L247.86 29.94 L249.15 28.81 L250.43 27.62 L251.72 26.37 L253.00 25.05 L254.29 23.64 L255.57 22.17 L256.86 20.61 L258.14 18.97 L259.43 17.27 L260.71 15.53 L262.00 13.78 L263.28 12.10 L264.57 10.58 L265.85 9.37 L267.14 8.62 L268.42 8.45 L269.71 8.94 L271.00 10.02 L272.28 11.59 L273.57 13.47 L274.85 15.54 L276.14 17.68 L277.42 19.82 L278.71 21.93 L279.99 23.96 L281.28 25.93 L282.56 27.81 L283.85 29.62 L285.13 31.35 L286.42 33.01 L287.70 34.60 L288.99 36.13 L290.27 37.60 L291.56 39.01 L292.84 40.38 L294.13 41.70 L295.42 42.98 L296.70 44.23 L297.99 45.43 L299.27 46.60 L300.56 47.74 L301.84 48.85 L303.13 49.94 L304.41 50.99 L305.70 52.03 L306.98 53.04 L308.27 54.04 L309.55 55.01 L310.84 55.96 L312.12 56.90 L313.41 57.82 L314.69 58.73 L315.98 59.62 L317.26 60.50 L318.55 61.37 L319.84 62.22 L321.12 63.07 L322.41 63.90 L323.69 64.72 L324.98 65.53 L326.26 66.34 L327.55 67.13 L328.83 67.92 L330.12 68.69 L331.40 69.46 L332.69 70.23 L333.97 70.98 L335.26 71.73 L336.54 72.48 L337.83 73.22 L339.11 73.95 L340.40 74.68 L341.68 75.40 L342.97 76.11 L344.26 76.83 L345.54 77.53 L346.83 78.24 L348.11 78.94 L349.40 79.63 L350.68 80.32 L351.97 81.01 L353.25 81.69 L354.54 82.37 L355.82 83.05 L357.11 83.73 L358.39 84.40 L359.68 85.07 L360.96 85.73 L362.25 86.40 L363.53 87.06 L364.82 87.71 L366.11 88.37 L367.39 89.02 L368.68 89.68 L369.96 90.33 L371.25 90.97 L372.53 91.62 L373.82 92.26 L375.10 92.90 L376.39 93.54 L377.67 94.18 L378.96 94.82 L380.24 95.46 L381.53 96.09 L382.81 96.72 L384.10 97.35 L385.38 97.98 L386.67 98.61 L387.95 99.24 L389.24 99.87 L390.53 100.49 L391.81 101.12 L393.10 101.74 L394.38 102.36 L395.67 102.98 L396.95 103.60 L398.24 104.22 L399.52 104.84 L400.81 105.46 L402.09 106.08 L403.38 106.69" fill="none" stroke="#a61c00" stroke-width="2.2" stroke-linejoin="round"/>
<path d="M52.50 78.21 L53.79 78.01 L55.07 77.81 L56.36 77.61 L57.64 77.42 L58.93 77.22 L60.21 77.02 L61.50 76.82 L62.78 76.62 L64.07 76.42 L65.35 76.23 L66.64 76.03 L67.92 75.83 L69.21 75.63 L70.49 75.43 L71.78 75.24 L73.06 75.04 L74.35 74.84 L75.63 74.64 L76.92 74.44 L78.21 74.24 L79.49 74.05 L80.78 73.85 L82.06 73.65 L83.35 73.45 L84.63 73.25 L85.92 73.06 L87.20 72.86 L88.49 72.66 L89.77 72.46 L91.06 72.26 L92.34 72.06 L93.63 71.87 L94.91 71.67 L96.20 71.47 L97.48 71.27 L98.77 71.07 L100.05 70.88 L101.34 70.68 L102.63 70.48 L103.91 70.28 L105.20 70.08 L106.48 69.88 L107.77 69.69 L109.05 69.49 L110.34 69.29 L111.62 69.09 L112.91 68.89 L114.19 68.70 L115.48 68.50 L116.76 68.30 L118.05 68.10 L119.33 67.90 L120.62 67.70 L121.90 67.51 L123.19 67.31 L124.47 67.11 L125.76 66.91 L127.05 66.71 L128.33 66.51 L129.62 66.32 L130.90 66.12 L132.19 65.92 L133.47 65.72 L134.76 65.52 L136.04 65.33 L137.33 65.13 L138.61 64.93 L139.90 64.73 L141.18 64.53 L142.47 64.33 L143.75 64.14 L145.04 63.94 L146.32 63.74 L147.61 63.54 L148.89 63.34 L150.18 63.15 L151.47 62.95 L152.75 62.75 L154.04 62.55 L155.32 62.35 L156.61 62.15 L157.89 61.96 L159.18 61.76 L160.46 61.56 L161.75 61.36 L163.03 61.16 L164.32 60.97 L165.60 60.77 L166.89 60.57 L168.17 60.37 L169.46 60.17 L170.74 59.97 L172.03 59.78 L173.32 59.58 L174.60 59.38 L175.89 59.18 L177.17 58.98 L178.46 58.79 L179.74 58.59 L181.03 58.39 L182.31 58.19 L183.60 57.99 L184.88 57.79 L186.17 57.60 L187.45 57.40 L188.74 57.20 L190.02 57.00 L191.31 56.80 L192.59 56.61 L193.88 56.41 L195.16 56.21 L196.45 56.01 L197.74 55.81 L199.02 55.61 L200.31 55.42 L201.59 55.22 L202.88 55.02 L204.16 54.82 L205.45 54.62 L206.73 54.42 L208.02 54.23 L209.30 54.03 L210.59 53.83 L211.87 53.63 L213.16 53.43 L214.44 53.24 L215.73 53.04 L217.01 52.84 L218.30 52.64 L219.58 52.44 L220.87 52.24 L222.16 52.05 L223.44 51.85 L224.73 51.65 L226.01 51.45 L227.30 51.25 L228.58 51.06 L229.87 50.86 L231.15 50.66 L232.44 50.46 L233.72 50.26 L235.01 50.06 L236.29 49.87 L237.58 49.67 L238.86 49.47 L240.15 49.27 L241.43 49.07 L242.72 48.88 L244.00 48.68 L245.29 48.48 L246.58 48.28 L247.86 48.08 L249.15 47.88 L250.43 47.69 L251.72 47.49 L253.00 47.29 L254.29 47.09 L255.57 46.89 L256.86 46.70 L258.14 46.50 L259.43 46.30 L260.71 46.10 L262.00 45.90 L263.28 45.70 L264.57 45.51 L265.85 45.31 L267.14 45.11 L268.42 44.91" fill="none" stroke="#00008b" stroke-width="2.2" stroke-dasharray="7 2.6" stroke-linejoin="round"/>
<path d="M52.50 78.24 L53.79 78.05 L55.07 77.85 L56.36 77.65 L57.64 77.46 L58.93 77.26 L60.21 77.06 L61.50 76.86 L62.78 76.67 L64.07 76.47 L65.35 76.27 L66.64 76.08 L67.92 75.88 L69.21 75.69 L70.49 75.49 L71.78 75.29 L73.06 75.10 L74.35 74.90 L75.63 74.70 L76.92 74.51 L78.21 74.31 L79.49 74.12 L80.78 73.92 L82.06 73.73 L83.35 73.53 L84.63 73.33 L85.92 73.14 L87.20 72.94 L88.49 72.75 L89.77 72.55 L91.06 72.36 L92.34 72.16 L93.63 71.97 L94.91 71.77 L96.20 71.58 L97.48 71.39 L98.77 71.19 L100.05 71.00 L101.34 70.80 L102.63 70.61 L103.91 70.42 L105.20 70.22 L106.48 70.03 L107.77 69.84 L109.05 69.64 L110.34 69.45 L111.62 69.26 L112.91 69.07 L114.19 68.87 L115.48 68.68 L116.76 68.49 L118.05 68.30 L119.33 68.11 L120.62 67.92 L121.90 67.73 L123.19 67.54 L124.47 67.35 L125.76 67.16 L127.05 66.97 L128.33 66.78 L129.62 66.59 L130.90 66.40 L132.19 66.21 L133.47 66.02 L134.76 65.83 L136.04 65.65 L137.33 65.46 L138.61 65.27 L139.90 65.09 L141.18 64.90 L142.47 64.71 L143.75 64.53 L145.04 64.35 L146.32 64.16 L147.61 63.98 L148.89 63.79 L150.18 63.61 L151.47 63.43 L152.75 63.25 L154.04 63.07 L155.32 62.89 L156.61 62.71 L157.89 62.53 L159.18 62.35 L160.46 62.17 L161.75 61.99 L163.03 61.82 L164.32 61.64 L165.60 61.47 L166.89 61.29 L168.17 61.12 L169.46 60.94 L170.74 60.77 L172.03 60.60 L173.32 60.43 L174.60 60.26 L175.89 60.09 L177.17 59.93 L178.46 59.76 L179.74 59.59 L181.03 59.43 L182.31 59.27 L183.60 59.10 L184.88 58.94 L186.17 58.78 L187.45 58.63 L188.74 58.47 L190.02 58.31 L191.31 58.16 L192.59 58.00 L193.88 57.85 L195.16 57.70 L196.45 57.55 L197.74 57.41 L199.02 57.26 L200.31 57.11 L201.59 56.97 L202.88 56.83 L204.16 56.69 L205.45 56.55 L206.73 56.42 L208.02 56.28 L209.30 56.15 L210.59 56.02 L211.87 55.89 L213.16 55.77 L214.44 55.64 L215.73 55.52 L217.01 55.40 L218.30 55.28 L219.58 55.17 L220.87 55.05 L222.16 54.94 L223.44 54.84 L224.73 54.73 L226.01 54.63 L227.30 54.52 L228.58 54.43 L229.87 54.33 L231.15 54.24 L232.44 54.15 L233.72 54.06 L235.01 53.97 L236.29 53.89 L237.58 53.81 L238.86 53.73 L240.15 53.66 L241.43 53.59 L242.72 53.52 L244.00 53.46 L245.29 53.40 L246.58 53.34 L247.86 53.28 L249.15 53.23 L250.43 53.18 L251.72 53.14 L253.00 53.09 L254.29 53.06 L255.57 53.02 L256.86 52.99 L258.14 52.96 L259.43 52.93 L260.71 52.91 L262.00 52.89 L263.28 52.88 L264.57 52.86 L265.85 52.85 L267.14 52.85 L268.42 52.85 L269.71 52.85 L271.00 52.85 L272.28 52.86 L273.57 52.87 L274.85 52.89 L276.14 52.91 L277.42 52.93 L278.71 52.95 L279.99 52.98 L281.28 53.02 L282.56 53.05 L283.85 53.09 L285.13 53.13 L286.42 53.18 L287.70 53.23 L288.99 53.28 L290.27 53.33 L291.56 53.39 L292.84 53.45 L294.13 53.52 L295.42 53.58 L296.70 53.65 L297.99 53.73 L299.27 53.80 L300.56 53.88 L301.84 53.96 L303.13 54.05 L304.41 54.14 L305.70 54.23 L306.98 54.32 L308.27 54.41 L309.55 54.51 L310.84 54.61 L312.12 54.72 L313.41 54.82 L314.69 54.93 L315.98 55.04 L317.26 55.15 L318.55 55.27 L319.84 55.39 L321.12 55.51 L322.41 55.63 L323.69 55.75 L324.98 55.88 L326.26 56.01 L327.55 56.14 L328.83 56.27 L330.12 56.40 L331.40 56.54 L332.69 56.68 L333.97 56.81 L335.26 56.96 L336.54 57.10 L337.83 57.24 L339.11 57.39 L340.40 57.54 L341.68 57.68 L342.97 57.83 L344.26 57.99 L345.54 58.14 L346.83 58.29 L348.11 58.45 L349.40 58.61 L350.68 58.77 L351.97 58.93 L353.25 59.09 L354.54 59.25 L355.82 59.41 L357.11 59.58 L358.39 59.74 L359.68 59.91 L360.96 60.07 L362.25 60.24 L363.53 60.41 L364.82 60.58 L366.11 60.75 L367.39 60.92 L368.68 61.10 L369.96 61.27 L371.25 61.45 L372.53 61.62 L373.82 61.80 L375.10 61.97 L376.39 62.15 L377.67 62.33 L378.96 62.51 L380.24 62.69 L381.53 62.87 L382.81 63.05 L384.10 63.23 L385.38 63.41 L386.67 63.59 L387.95 63.77 L389.24 63.96 L390.53 64.14 L391.81 64.32 L393.10 64.51 L394.38 64.69 L395.67 64.88 L396.95 65.06 L398.24 65.25 L399.52 65.44 L400.81 65.62 L402.09 65.81 L403.38 66.00 L404.66 66.19 L405.95 66.38 L407.23 66.56 L408.52 66.75 L409.80 66.94 L411.09 67.13 L412.37 67.32 L413.66 67.51 L414.95 67.70 L416.23 67.89 L417.52 68.09 L418.80 68.28 L420.09 68.47 L421.37 68.66 L422.66 68.85 L423.94 69.04 L425.23 69.24 L426.51 69.43 L427.80 69.62 L429.08 69.81 L430.37 70.01 L431.65 70.20 L432.94 70.39 L434.22 70.59 L435.51 70.78 L436.79 70.98 L438.08 71.17 L439.37 71.36 L440.65 71.56 L441.94 71.75 L443.22 71.95 L444.51 72.14 L445.79 72.34 L447.08 72.53 L448.36 72.73 L449.65 72.92 L450.93 73.12 L452.22 73.31 L453.50 73.51 L454.79 73.70 L456.07 73.90 L457.36 74.09 L458.64 74.29 L459.93 74.49 L461.21 74.68 L462.50 74.88" fill="none" stroke="#ff8000" stroke-width="2.3" stroke-dasharray="3 2.5" stroke-linejoin="round"/>
<path d="M52.50 78.84 L53.79 78.65 L55.07 78.46 L56.36 78.27 L57.64 78.09 L58.93 77.90 L60.21 77.72 L61.50 77.53 L62.78 77.34 L64.07 77.16 L65.35 76.97 L66.64 76.79 L67.92 76.60 L69.21 76.42 L70.49 76.23 L71.78 76.05 L73.06 75.86 L74.35 75.68 L75.63 75.50 L76.92 75.31 L78.21 75.13 L79.49 74.95 L80.78 74.77 L82.06 74.58 L83.35 74.40 L84.63 74.22 L85.92 74.04 L87.20 73.86 L88.49 73.68 L89.77 73.50 L91.06 73.32 L92.34 73.14 L93.63 72.96 L94.91 72.78 L96.20 72.60 L97.48 72.42 L98.77 72.24 L100.05 72.07 L101.34 71.89 L102.63 71.71 L103.91 71.53 L105.20 71.36 L106.48 71.18 L107.77 71.01 L109.05 70.83 L110.34 70.66 L111.62 70.48 L112.91 70.31 L114.19 70.13 L115.48 69.96 L116.76 69.79 L118.05 69.62 L119.33 69.44 L120.62 69.27 L121.90 69.10 L123.19 68.93 L124.47 68.76 L125.76 68.59 L127.05 68.42 L128.33 68.26 L129.62 68.09 L130.90 67.92 L132.19 67.75 L133.47 67.59 L134.76 67.42 L136.04 67.26 L137.33 67.09 L138.61 66.93 L139.90 66.76 L141.18 66.60 L142.47 66.44 L143.75 66.28 L145.04 66.12 L146.32 65.96 L147.61 65.80 L148.89 65.64 L150.18 65.48 L151.47 65.32 L152.75 65.17 L154.04 65.01 L155.32 64.85 L156.61 64.70 L157.89 64.55 L159.18 64.39 L160.46 64.24 L161.75 64.09 L163.03 63.94 L164.32 63.79 L165.60 63.64 L166.89 63.49 L168.17 63.35 L169.46 63.20 L170.74 63.05 L172.03 62.91 L173.32 62.77 L174.60 62.62 L175.89 62.48 L177.17 62.34 L178.46 62.20 L179.74 62.06 L181.03 61.92 L182.31 61.79 L183.60 61.65 L184.88 61.52 L186.17 61.38 L187.45 61.25 L188.74 61.12 L190.02 60.99 L191.31 60.86 L192.59 60.74 L193.88 60.61 L195.16 60.48 L196.45 60.36 L197.74 60.24 L199.02 60.12 L200.31 60.00 L201.59 59.88 L202.88 59.76 L204.16 59.65 L205.45 59.53 L206.73 59.42 L208.02 59.31 L209.30 59.20 L210.59 59.09 L211.87 58.99 L213.16 58.88 L214.44 58.78 L215.73 58.68 L217.01 58.58 L218.30 58.48 L219.58 58.38 L220.87 58.29 L222.16 58.19 L223.44 58.10 L224.73 58.01 L226.01 57.93 L227.30 57.84 L228.58 57.76 L229.87 57.68 L231.15 57.60 L232.44 57.52 L233.72 57.44 L235.01 57.37 L236.29 57.30 L237.58 57.23 L238.86 57.17 L240.15 57.10 L241.43 57.04 L242.72 56.98 L244.00 56.92 L245.29 56.87 L246.58 56.82 L247.86 56.77 L249.15 56.72 L250.43 56.68 L251.72 56.64 L253.00 56.60 L254.29 56.56 L255.57 56.53 L256.86 56.50 L258.14 56.47 L259.43 56.45 L260.71 56.43 L262.00 56.41 L263.28 56.39 L264.57 56.38 L265.85 56.37 L267.14 56.37 L268.42 56.37 L269.71 56.37 L271.00 56.37 L272.28 56.38 L273.57 56.39 L274.85 56.41 L276.14 56.43 L277.42 56.45 L278.71 56.48 L279.99 56.51 L281.28 56.54 L282.56 56.58 L283.85 56.63 L285.13 56.67 L286.42 56.73 L287.70 56.78 L288.99 56.84 L290.27 56.91 L291.56 56.98 L292.84 57.05 L294.13 57.13 L295.42 57.22 L296.70 57.31 L297.99 57.40 L299.27 57.50 L300.56 57.60 L301.84 57.71 L303.13 57.83 L304.41 57.95 L305.70 58.07 L306.98 58.20 L308.27 58.34 L309.55 58.48 L310.84 58.63 L312.12 58.79 L313.41 58.95 L314.69 59.12 L315.98 59.29 L317.26 59.47 L318.55 59.66 L319.84 59.85 L321.12 60.05 L322.41 60.26 L323.69 60.48 L324.98 60.70 L326.26 60.93 L327.55 61.16 L328.83 61.41 L330.12 61.66 L331.40 61.92 L332.69 62.19 L333.97 62.46 L335.26 62.75 L336.54 63.04 L337.83 63.34 L339.11 63.65 L340.40 63.97 L341.68 64.30 L342.97 64.63 L344.26 64.98 L345.54 65.33 L346.83 65.70 L348.11 66.07 L349.40 66.46 L350.68 66.85 L351.97 67.26 L353.25 67.68 L354.54 68.10 L355.82 68.54 L357.11 68.99 L358.39 69.45 L359.68 69.92 L360.96 70.40 L362.25 70.90 L363.53 71.41 L364.82 71.93 L366.11 72.46 L367.39 73.00 L368.68 73.56 L369.96 74.13 L371.25 74.72 L372.53 75.31 L373.82 75.93 L375.10 76.55 L376.39 77.19 L377.67 77.85 L378.96 78.52 L380.24 79.20 L381.53 79.90 L382.81 80.62 L384.10 81.35 L385.38 82.10 L386.67 82.86 L387.95 83.65 L389.24 84.44 L390.53 85.26 L391.81 86.09 L393.10 86.95 L394.38 87.82 L395.67 88.70 L396.95 89.61 L398.24 90.54 L399.52 91.48 L400.81 92.45 L402.09 93.44 L403.38 94.44 L404.66 95.47 L405.95 96.52 L407.23 97.59 L408.52 98.69 L409.80 99.80 L411.09 100.94 L412.37 102.11 L413.66 103.29 L414.95 104.50 L416.23 105.74" fill="none" stroke="#006400" stroke-width="2.3" stroke-dasharray="7 2.3 3 2.3" stroke-linejoin="round"/>
<path d="M52.50 78.24 L53.79 78.05 L55.07 77.85 L56.36 77.65 L57.64 77.46 L58.93 77.26 L60.21 77.06 L61.50 76.86 L62.78 76.67 L64.07 76.47 L65.35 76.28 L66.64 76.08 L67.92 75.88 L69.21 75.69 L70.49 75.49 L71.78 75.29 L73.06 75.10 L74.35 74.90 L75.63 74.70 L76.92 74.51 L78.21 74.31 L79.49 74.12 L80.78 73.92 L82.06 73.73 L83.35 73.53 L84.63 73.34 L85.92 73.14 L87.20 72.94 L88.49 72.75 L89.77 72.55 L91.06 72.36 L92.34 72.16 L93.63 71.97 L94.91 71.78 L96.20 71.58 L97.48 71.39 L98.77 71.19 L100.05 71.00 L101.34 70.80 L102.63 70.61 L103.91 70.42 L105.20 70.22 L106.48 70.03 L107.77 69.84 L109.05 69.65 L110.34 69.45 L111.62 69.26 L112.91 69.07 L114.19 68.88 L115.48 68.68 L116.76 68.49 L118.05 68.30 L119.33 68.11 L120.62 67.92 L121.90 67.73 L123.19 67.54 L124.47 67.35 L125.76 67.16 L127.05 66.97 L128.33 66.78 L129.62 66.59 L130.90 66.40 L132.19 66.21 L133.47 66.03 L134.76 65.84 L136.04 65.65 L137.33 65.46 L138.61 65.28 L139.90 65.09 L141.18 64.91 L142.47 64.72 L143.75 64.54 L145.04 64.35 L146.32 64.17 L147.61 63.99 L148.89 63.80 L150.18 63.62 L151.47 63.44 L152.75 63.26 L154.04 63.08 L155.32 62.90 L156.61 62.72 L157.89 62.54 L159.18 62.36 L160.46 62.19 L161.75 62.01 L163.03 61.84 L164.32 61.66 L165.60 61.49 L166.89 61.31 L168.17 61.14 L169.46 60.97 L170.74 60.80 L172.03 60.63 L173.32 60.46 L174.60 60.30 L175.89 60.13 L177.17 59.97 L178.46 59.80 L179.74 59.64 L181.03 59.48 L182.31 59.32 L183.60 59.16 L184.88 59.00 L186.17 58.85 L187.45 58.69 L188.74 58.54 L190.02 58.39 L191.31 58.24 L192.59 58.09 L193.88 57.95 L195.16 57.80 L196.45 57.66 L197.74 57.52 L199.02 57.38 L200.31 57.25 L201.59 57.11 L202.88 56.98 L204.16 56.85 L205.45 56.73 L206.73 56.60 L208.02 56.48 L209.30 56.36 L210.59 56.24 L211.87 56.13 L213.16 56.02 L214.44 55.91 L215.73 55.81 L217.01 55.71 L218.30 55.61 L219.58 55.52 L220.87 55.43 L222.16 55.34 L223.44 55.26 L224.73 55.18 L226.01 55.11 L227.30 55.04 L228.58 54.97 L229.87 54.91 L231.15 54.86 L232.44 54.81 L233.72 54.76 L235.01 54.72 L236.29 54.69 L237.58 54.66 L238.86 54.64 L240.15 54.62 L241.43 54.61 L242.72 54.61 L244.00 54.61 L245.29 54.62 L246.58 54.64 L247.86 54.66 L249.15 54.70 L250.43 54.74 L251.72 54.79 L253.00 54.85 L254.29 54.91 L255.57 54.99 L256.86 55.08 L258.14 55.17 L259.43 55.28 L260.71 55.40 L262.00 55.53 L263.28 55.67 L264.57 55.82 L265.85 55.99 L267.14 56.16 L268.42 56.35 L269.71 56.56 L271.00 56.78 L272.28 57.01 L273.57 57.26 L274.85 57.52 L276.14 57.80 L277.42 58.10 L278.71 58.41 L279.99 58.75 L281.28 59.10 L282.56 59.47 L283.85 59.86 L285.13 60.27 L286.42 60.70 L287.70 61.16 L288.99 61.64 L290.27 62.14 L291.56 62.66 L292.84 63.22 L294.13 63.79 L295.42 64.40 L296.70 65.03 L297.99 65.70 L299.27 66.39 L300.56 67.11 L301.84 67.87 L303.13 68.66 L304.41 69.49 L305.70 70.35 L306.98 71.25 L308.27 72.18 L309.55 73.16 L310.84 74.18 L312.12 75.24 L313.41 76.35 L314.69 77.50 L315.98 78.70 L317.26 79.95 L318.55 81.25 L319.84 82.60 L321.12 84.00 L322.41 85.47 L323.69 86.99 L324.98 88.57 L326.26 90.21 L327.55 91.92 L328.83 93.70 L330.12 95.55 L331.40 97.46 L332.69 99.46 L333.97 101.52 L335.26 103.67 L336.54 105.91" fill="none" stroke="#880088" stroke-width="2.1" stroke-dasharray="7 2.6" stroke-linejoin="round"/>
</g>
<line x1="52.5" x2="52.5" y1="0.5" y2="102.8" stroke="#6a6a6a" stroke-width="1"/>
<line x1="462.5" x2="462.5" y1="0.5" y2="102.8" stroke="#6a6a6a" stroke-width="1"/>
<line x1="268.50" x2="268.50" y1="102.8" y2="99.2" stroke="#333" stroke-width="0.8"/>
<line x1="320.04" x2="320.04" y1="102.8" y2="99.2" stroke="#333" stroke-width="0.8"/>
<line x1="388.16" x2="388.16" y1="102.8" y2="99.2" stroke="#333" stroke-width="0.8"/>
<line x1="52.5" x2="55.9" y1="18.5" y2="18.5" stroke="#444" stroke-width="0.8"/>
<line x1="52.5" x2="55.9" y1="44.5" y2="44.5" stroke="#444" stroke-width="0.8"/>
<line x1="52.5" x2="55.9" y1="97.5" y2="97.5" stroke="#444" stroke-width="0.8"/>
<text x="97.30" y="117.2" font-family='"Liberation Serif", serif' font-size="14" text-anchor="middle" fill="#000">0.1</text>
<text x="148.84" y="117.2" font-family='"Liberation Serif", serif' font-size="14" text-anchor="middle" fill="#000">0.2</text>
<text x="216.96" y="117.2" font-family='"Liberation Serif", serif' font-size="14" text-anchor="middle" fill="#000">0.5</text>
<text x="268.50" y="117.2" font-family='"Liberation Serif", serif' font-size="14" text-anchor="middle" fill="#000">1</text>
<text x="320.04" y="117.2" font-family='"Liberation Serif", serif' font-size="14" text-anchor="middle" fill="#000">2</text>
<text x="388.16" y="117.2" font-family='"Liberation Serif", serif' font-size="14" text-anchor="middle" fill="#000">5</text>
<text x="439.70" y="117.2" font-family='"Liberation Serif", serif' font-size="14" text-anchor="middle" fill="#000">10</text>
<text x="47.9" y="24.10" font-family='"Liberation Serif", serif' font-size="14" text-anchor="end" fill="#000">10<tspan font-size="10" dy="-5.7">1</tspan></text>
<text x="47.9" y="50.10" font-family='"Liberation Serif", serif' font-size="14" text-anchor="end" fill="#000">10<tspan font-size="10" dy="-5.7">0</tspan></text>
<text x="47.9" y="76.10" font-family='"Liberation Serif", serif' font-size="14" text-anchor="end" fill="#000">10<tspan font-size="10" dy="-5.7">−1</tspan></text>
<text x="47.9" y="102.10" font-family='"Liberation Serif", serif' font-size="14" text-anchor="end" fill="#000">10<tspan font-size="10" dy="-5.7">−2</tspan></text>
<text x="200.3" y="138.7" font-family='"Liberation Sans", sans-serif' font-size="14" fill="#000">Frequency</text>
<text x="270.7" y="138.7" font-family='"Liberation Serif", serif' font-style="italic" font-size="16.5" fill="#000">ω</text>
<text x="286.2" y="138.7" font-family='"Liberation Sans", sans-serif' font-size="14.5" fill="#000">(</text>
<text x="291.7" y="138.7" font-family='"Liberation Serif", serif' font-style="italic" font-size="16.5" fill="#000">ω</text>
<text x="303.5" y="141.7" font-family='"Liberation Sans", sans-serif' font-style="italic" font-size="10.5" fill="#000">c</text>
<text x="309.5" y="138.7" font-family='"Liberation Sans", sans-serif' font-size="14.5" fill="#000">)</text>
<text x="6.3" y="128.9" font-family='"Liberation Sans", sans-serif' font-size="15" fill="#000">(a)</text>
<g transform="translate(12.6,91.4) rotate(-90)">
<text x="0" y="0" font-family='"Liberation Serif", serif' font-style="italic" font-size="16" fill="#000">π</text>
<path d="M12.3 -8.3 C12.3 -10.4 13.6 -11.2 16 -10.7 C19 -10.0 22.5 -11.5 25.3 -10.9" fill="none" stroke="#000" stroke-width="1.1" stroke-linecap="round"/>
<path d="M19.3 -10.4 C19.6 -6 19.4 -1.5 17.6 1 C16 3.2 12.2 3 11 0.9 C10.2 -0.6 11.2 -2 12.4 -1.6" fill="none" stroke="#000" stroke-width="1.5" stroke-linecap="round"/>
<path d="M28.6 -11.8 H26.4 V2.6 H28.6" fill="none" stroke="#000" stroke-width="1"/>
<path d="M42.2 -11.8 H44.4 V2.6 H42.2" fill="none" stroke="#000" stroke-width="1"/>
<text x="31.3" y="0" font-family='"Liberation Serif", serif' font-style="italic" font-size="15.5" fill="#000">ω</text>
<text x="50.1" y="0" font-family='"Liberation Serif", serif' font-size="16" fill="#000">(</text>
<text x="56.0" y="0" font-family='"Liberation Serif", serif' font-style="italic" font-size="15.5" fill="#000">ω</text>
<text x="66.3" y="3.4" font-family='"Liberation Sans", sans-serif' font-size="9.5" fill="#000">c</text>
<text x="71.7" y="0" font-family='"Liberation Serif", serif' font-size="16" fill="#000">)</text>
</g>
<line x1="74.62" x2="74.62" y1="153.5" y2="257.5" stroke="#8c8c8c" stroke-width="0.6"/>
<line x1="142.08" x2="142.08" y1="153.5" y2="257.5" stroke="#8c8c8c" stroke-width="0.6"/>
<line x1="193.10" x2="193.10" y1="153.5" y2="257.5" stroke="#8c8c8c" stroke-width="0.6"/>
<line x1="244.12" x2="244.12" y1="153.5" y2="257.5" stroke="#8c8c8c" stroke-width="0.6"/>
<line x1="311.58" x2="311.58" y1="153.5" y2="257.5" stroke="#8c8c8c" stroke-width="0.6"/>
<line x1="362.60" x2="362.60" y1="153.5" y2="257.5" stroke="#8c8c8c" stroke-width="0.6"/>
<line x1="413.62" x2="413.62" y1="153.5" y2="257.5" stroke="#8c8c8c" stroke-width="0.6"/>
<line x1="443.47" x2="443.47" y1="153.5" y2="257.5" stroke="#8c8c8c" stroke-width="0.6"/>
<line x1="45.5" x2="461.5" y1="175.46" y2="175.46" stroke="#8c8c8c" stroke-width="0.6"/>
<line x1="45.5" x2="461.5" y1="197.38" y2="197.38" stroke="#8c8c8c" stroke-width="0.6"/>
<line x1="45.5" x2="461.5" y1="219.30" y2="219.30" stroke="#8c8c8c" stroke-width="0.6"/>
<line x1="45.5" x2="461.5" y1="241.22" y2="241.22" stroke="#8c8c8c" stroke-width="0.6"/>
<line x1="52.3" x2="459.1" y1="213.7" y2="213.7" stroke="#9ccfe2" stroke-width="1.7"/>
<path d="M52.30 210.00 L52.94 209.76 L53.58 209.51 L54.22 209.26 L54.86 209.01 L55.50 208.76 L56.14 208.51 L56.78 208.25 L57.42 208.00 L58.06 207.74 L58.70 207.47 L59.34 207.21 L59.98 206.94 L60.62 206.67 L61.26 206.39 L61.91 206.12 L62.55 205.84 L63.19 205.55 L63.83 205.27 L64.47 204.98 L65.11 204.69 L65.75 204.39 L66.39 204.09 L67.03 203.79 L67.67 203.48 L68.31 203.17 L68.95 202.86 L69.59 202.54 L70.23 202.22 L70.87 201.90 L71.51 201.57 L72.15 201.23 L72.79 200.90 L73.43 200.55 L74.07 200.21 L74.71 199.86 L75.35 199.50 L75.99 199.14 L76.63 198.77 L77.27 198.39 L77.91 197.99 L78.55 197.57 L79.19 197.12 L79.84 196.66 L80.48 196.17 L81.12 195.66 L81.76 195.13 L82.40 194.59 L83.04 194.02 L83.68 193.45 L84.32 192.86 L84.96 192.26 L85.60 191.66 L86.24 191.04 L86.88 190.42 L87.52 189.80 L88.16 189.17 L88.80 188.54 L89.44 187.91 L90.08 187.28 L90.72 186.66 L91.36 186.04 L92.00 185.43 L92.64 184.82 L93.28 184.22 L93.92 183.62 L94.56 183.03 L95.20 182.44 L95.84 181.85 L96.48 181.26 L97.12 180.68 L97.76 180.09 L98.41 179.51 L99.05 178.92 L99.69 178.33 L100.33 177.73 L100.97 177.14 L101.61 176.54 L102.25 175.93 L102.89 175.32 L103.53 174.70 L104.17 174.08 L104.81 173.46 L105.45 172.83 L106.09 172.21 L106.73 171.59 L107.37 170.97 L108.01 170.36 L108.65 169.76 L109.29 169.17 L109.93 168.59 L110.57 168.02 L111.21 167.46 L111.85 166.92 L112.49 166.40 L113.13 165.90 L113.77 165.41 L114.41 164.95 L115.05 164.51 L115.69 164.08 L116.34 163.66 L116.98 163.26 L117.62 162.87 L118.26 162.49 L118.90 162.12 L119.54 161.76 L120.18 161.41 L120.82 161.06 L121.46 160.72 L122.10 160.37 L122.74 160.03 L123.38 159.69 L124.02 159.36 L124.66 159.03 L125.30 158.72 L125.94 158.43 L126.58 158.16 L127.22 157.92 L127.86 157.72 L128.50 157.57 L129.14 157.46 L129.78 157.40 L130.42 157.40 L131.06 157.46 L131.70 157.57 L132.34 157.73 L132.98 157.94 L133.62 158.19 L134.26 158.48 L134.91 158.81 L135.55 159.18 L136.19 159.58 L136.83 160.01 L137.47 160.48 L138.11 160.97 L138.75 161.50 L139.39 162.05 L140.03 162.64 L140.67 163.27 L141.31 163.94 L141.95 164.67 L142.59 165.46 L143.23 166.32 L143.87 167.25 L144.51 168.24 L145.15 169.31 L145.79 170.43 L146.43 171.62 L147.07 172.87 L147.71 174.18 L148.35 175.54 L148.99 176.95 L149.63 178.42 L150.27 179.93 L150.91 181.48 L151.55 183.07 L152.19 184.68 L152.84 186.32 L153.48 187.97 L154.12 189.64 L154.76 191.31 L155.40 192.99 L156.04 194.66 L156.68 196.32 L157.32 197.98 L157.96 199.64 L158.60 201.30 L159.24 202.97 L159.88 204.66 L160.52 206.36 L161.16 208.09 L161.80 209.84 L162.44 211.62 L163.08 213.43 L163.72 215.29 L164.36 217.18 L165.00 219.12 L165.64 221.10 L166.28 223.09 L166.92 225.08 L167.56 227.07 L168.20 229.04 L168.84 230.98 L169.48 232.86 L170.12 234.69 L170.76 236.44 L171.41 238.12 L172.05 239.72 L172.69 241.24 L173.33 242.68 L173.97 244.04 L174.61 245.31 L175.25 246.50 L175.89 247.60 L176.53 248.61 L177.17 249.53 L177.81 250.35 L178.45 251.08 L179.09 251.71 L179.73 252.24 L180.37 252.67 L181.01 252.99 L181.65 253.20 L182.29 253.30 L182.93 253.28 L183.57 253.15 L184.21 252.92 L184.85 252.59 L185.49 252.17 L186.13 251.68 L186.77 251.12 L187.41 250.50 L188.05 249.83 L188.69 249.12 L189.34 248.38 L189.98 247.61 L190.62 246.81 L191.26 245.97 L191.90 245.08 L192.54 244.14 L193.18 243.13 L193.82 242.06 L194.46 240.91 L195.10 239.72 L195.74 238.51 L196.38 237.29 L197.02 236.07 L197.66 234.87 L198.30 233.69 L198.94 232.53 L199.58 231.39 L200.22 230.30 L200.86 229.24 L201.50 228.22 L202.14 227.25 L202.78 226.32 L203.42 225.44 L204.06 224.60 L204.70 223.80 L205.34 223.04 L205.98 222.31 L206.62 221.59 L207.26 220.89 L207.91 220.18 L208.55 219.47 L209.19 218.76 L209.83 218.03 L210.47 217.29 L211.11 216.55 L211.75 215.79 L212.39 215.01 L213.03 214.21 L213.67 213.37 L214.31 212.50 L214.95 211.58 L215.59 210.60 L216.23 209.57 L216.87 208.50 L217.51 207.37 L218.15 206.21 L218.79 205.00 L219.43 203.75 L220.07 202.47 L220.71 201.15 L221.35 199.81 L221.99 198.47 L222.63 197.13 L223.27 195.82 L223.91 194.54 L224.55 193.31 L225.19 192.15 L225.84 191.08 L226.48 190.10 L227.12 189.22 L227.76 188.47 L228.40 187.85 L229.04 187.37 L229.68 187.05 L230.32 186.90 L230.96 186.94 L231.60 187.16 L232.24 187.61 L232.88 188.28 L233.52 189.21 L234.16 190.40 L234.80 191.88 L235.44 193.65 L236.08 195.70 L236.72 197.96 L237.36 200.37 L238.00 202.87 L238.64 205.41 L239.28 207.93 L239.92 210.38 L240.56 212.74 L241.20 215.00 L241.84 217.16 L242.48 219.22 L243.12 221.17 L243.76 223.00 L244.41 224.71 L245.05 226.27 L245.69 227.69 L246.33 228.95 L246.97 230.04 L247.61 230.95 L248.25 231.67 L248.89 232.17 L249.53 232.45 L250.17 232.49 L250.81 232.30 L251.45 231.92 L252.09 231.36 L252.73 230.68 L253.37 229.89 L254.01 229.02 L254.65 228.12 L255.29 227.17 L255.93 226.19 L256.57 225.17 L257.21 224.10 L257.85 222.99 L258.49 221.83 L259.13 220.62 L259.77 219.37 L260.41 218.06 L261.05 216.70 L261.69 215.31 L262.34 213.89 L262.98 212.46 L263.62 211.04 L264.26 209.63 L264.90 208.25 L265.54 206.92 L266.18 205.64 L266.82 204.45 L267.46 203.37 L268.10 202.42 L268.74 201.64 L269.38 201.06 L270.02 200.69 L270.66 200.56 L271.30 200.70 L271.94 201.12 L272.58 201.79 L273.22 202.70 L273.86 203.83 L274.50 205.15 L275.14 206.65 L275.78 208.29 L276.42 210.03 L277.06 211.81 L277.70 213.58 L278.34 215.28 L278.98 216.87 L279.62 218.30 L280.26 219.53 L280.91 220.58 L281.55 221.46 L282.19 222.17 L282.83 222.72 L283.47 223.12 L284.11 223.37 L284.75 223.49 L285.39 223.45 L286.03 223.23 L286.67 222.79 L287.31 222.13 L287.95 221.21 L288.59 220.00 L289.23 218.48 L289.87 216.75 L290.51 214.97 L291.15 213.34 L291.79 211.97 L292.43 210.84 L293.07 209.91 L293.71 209.12 L294.35 208.44 L294.99 207.84 L295.63 207.33 L296.27 206.96 L296.91 206.78 L297.55 206.84 L298.19 207.15 L298.84 207.70 L299.48 208.43 L300.12 209.32 L300.76 210.32 L301.40 211.39 L302.04 212.51 L302.68 213.63 L303.32 214.72 L303.96 215.73 L304.60 216.64 L305.24 217.39 L305.88 217.97 L306.52 218.32 L307.16 218.41 L307.80 218.20 L308.02 218.16 L308.23 218.09 L308.45 218.01 L308.67 217.90 L308.88 217.78 L309.10 217.63 L309.32 217.47 L309.53 217.29 L309.75 217.09 L309.96 216.88 L310.18 216.65 L310.40 216.42 L310.61 216.17 L310.83 215.90 L311.05 215.64 L311.26 215.36 L311.48 215.08 L311.70 214.79 L311.91 214.50 L312.13 214.21 L312.35 213.92 L312.56 213.64 L312.78 213.35 L312.99 213.08 L313.21 212.81 L313.43 212.54 L313.64 212.29 L313.86 212.05 L314.08 211.82 L314.29 211.61 L314.51 211.41 L314.73 211.22 L314.94 211.05 L315.16 210.90 L315.38 210.77 L315.59 210.66 L315.81 210.57 L316.03 210.50 L316.24 210.45 L316.46 210.42 L316.67 210.41 L316.89 210.42 L317.11 210.45 L317.32 210.50 L317.54 210.57 L317.76 210.66 L317.97 210.77 L318.19 210.89 L318.41 211.04 L318.62 211.19 L318.84 211.37 L319.06 211.55 L319.27 211.75 L319.49 211.96 L319.70 212.17 L319.92 212.40 L320.14 212.63 L320.35 212.86 L320.57 213.10 L320.79 213.33 L321.00 213.57 L321.22 213.80 L321.44 214.03 L321.65 214.26 L321.87 214.48 L322.09 214.68 L322.30 214.88 L322.52 215.07 L322.74 215.25 L322.95 215.41 L323.17 215.55 L323.38 215.68 L323.60 215.80 L323.82 215.89 L324.03 215.97 L324.25 216.03 L324.47 216.07 L324.68 216.09 L324.90 216.10 L325.12 216.08 L325.33 216.05 L325.55 216.00 L325.77 215.93 L325.98 215.84 L326.20 215.74 L326.41 215.62 L326.63 215.49 L326.85 215.35 L327.06 215.20 L327.28 215.03 L327.50 214.86 L327.71 214.68 L327.93 214.49 L328.15 214.30 L328.36 214.11 L328.58 213.92 L328.80 213.73 L329.01 213.54 L329.23 213.36 L329.45 213.18 L329.66 213.01 L329.88 212.85 L330.09 212.70 L330.31 212.56 L330.53 212.43 L330.74 212.32 L330.96 212.22 L331.18 212.13 L331.39 212.06 L331.61 212.01 L331.83 211.98 L332.04 211.96 L332.26 211.96 L332.48 211.97 L332.69 212.00 L332.91 212.05 L333.12 212.11 L333.34 212.18 L333.56 212.27 L333.77 212.38 L333.99 212.49 L334.21 212.61 L334.42 212.75 L334.64 212.89 L334.86 213.03 L335.07 213.18 L335.29 213.33 L335.51 213.49 L335.72 213.64 L335.94 213.79 L336.16 213.94 L336.37 214.08 L336.59 214.22 L336.80 214.34 L337.02 214.46 L337.24 214.57 L337.45 214.67 L337.67 214.75 L337.89 214.82 L338.10 214.88 L338.32 214.93 L338.54 214.96 L338.75 214.97 L338.97 214.97 L339.19 214.95 L339.40 214.93 L339.62 214.88 L339.83 214.83 L340.05 214.76 L340.27 214.68 L340.48 214.59 L340.70 214.50 L340.92 214.39 L341.13 214.28 L341.35 214.16 L341.57 214.04 L341.78 213.92 L342.00 213.80 L342.22 213.68 L342.43 213.56 L342.65 213.45 L342.87 213.34 L343.08 213.24 L343.30 213.14 L343.51 213.06 L343.73 212.98 L343.95 212.92 L344.16 212.86 L344.38 212.82 L344.60 212.79 L344.81 212.78 L345.03 212.77 L345.25 212.78 L345.46 212.80 L345.68 212.84 L345.90 212.88 L346.11 212.94 L346.33 213.00 L346.54 213.07 L346.76 213.15 L346.98 213.24 L347.19 213.33 L347.41 213.42 L347.63 213.52 L347.84 213.61 L348.06 213.71 L348.28 213.80 L348.49 213.89 L348.71 213.98 L348.93 214.05 L349.14 214.13 L349.36 214.19 L349.58 214.25 L349.79 214.29 L350.01 214.33 L350.22 214.35 L350.44 214.37 L350.66 214.37 L350.87 214.37 L351.09 214.35 L351.31 214.32 L351.52 214.29 L351.74 214.24 L351.96 214.19 L352.17 214.13 L352.39 214.07 L352.61 214.00 L352.82 213.93 L353.04 213.85 L353.25 213.78 L353.47 213.70 L353.69 213.63 L353.90 213.56 L354.12 213.49 L354.34 213.43 L354.55 213.37 L354.77 213.33 L354.99 213.29 L355.20 213.25 L355.42 213.23 L355.64 213.22 L355.85 213.21 L356.07 213.21 L356.29 213.22 L356.50 213.24 L356.72 213.27 L356.93 213.31 L357.15 213.35 L357.37 213.40 L357.58 213.45 L357.80 213.50 L358.02 213.56 L358.23 213.62 L358.45 213.68 L358.67 213.74 L358.88 213.79 L359.10 213.84 L359.32 213.89 L359.53 213.94 L359.75 213.97 L359.96 214.00 L360.18 214.03 L360.40 214.05 L360.61 214.05 L360.83 214.06 L361.05 214.05 L361.26 214.04 L361.48 214.02 L361.70 214.00 L361.91 213.96 L362.13 213.93 L362.35 213.89 L362.56 213.85 L362.78 213.80 L363.00 213.76 L363.21 213.71 L363.43 213.67 L363.64 213.62 L363.86 213.58 L364.08 213.55 L364.29 213.52 L364.51 213.49 L364.73 213.47 L364.94 213.45 L365.16 213.44 L365.38 213.44 L365.59 213.44 L365.81 213.45 L366.03 213.47 L366.24 213.49 L366.46 213.51 L366.67 213.54 L366.89 213.57 L367.11 213.60 L367.32 213.64 L367.54 213.67 L367.76 213.71 L367.97 213.74 L368.19 213.77 L368.41 213.80 L368.62 213.83 L368.84 213.85 L369.06 213.87 L369.27 213.88 L369.49 213.89 L369.71 213.89 L369.92 213.89 L370.14 213.88 L370.35 213.87 L370.57 213.85 L370.79 213.83 L371.00 213.81 L371.22 213.78 L371.44 213.76 L371.65 213.73 L371.87 213.70 L372.09 213.68 L372.30 213.65 L372.52 213.63 L372.74 213.61 L372.95 213.59 L373.17 213.58 L373.38 213.57 L373.60 213.56 L373.82 213.56 L374.03 213.56 L374.25 213.57 L374.47 213.58 L374.68 213.59 L374.90 213.61 L375.12 213.63 L375.33 213.65 L375.55 213.67 L375.77 213.69 L375.98 213.71 L376.20 213.73 L376.42 213.75 L376.63 213.76 L376.85 213.78 L377.06 213.79 L377.28 213.80 L377.50 213.80 L377.71 213.80 L377.93 213.80 L378.15 213.79 L378.36 213.78 L378.58 213.77 L378.80 213.76 L379.01 213.75 L379.23 213.73 L379.45 213.71 L379.66 213.70 L379.88 213.68 L380.09 213.67 L380.31 213.66 L380.53 213.65 L380.74 213.64 L380.96 213.63 L381.18 213.63 L381.39 213.63 L381.61 213.63 L381.83 213.63 L382.04 213.64 L382.26 213.65 L382.48 213.66 L382.69 213.67 L382.91 213.68 L383.13 213.69 L383.34 213.71 L383.56 213.72 L383.77 213.73 L383.99 213.74 L384.21 213.74 L384.42 213.75 L384.64 213.75 L384.86 213.75 L385.07 213.75 L385.29 213.75 L385.51 213.74 L385.72 213.74 L385.94 213.73 L386.16 213.72 L386.37 213.71 L386.59 213.70 L386.81 213.69 L387.02 213.68 L387.24 213.68 L387.45 213.67 L387.67 213.67 L387.89 213.66 L388.10 213.66 L388.32 213.66 L388.54 213.66 L388.75 213.67 L388.97 213.67 L389.19 213.68 L389.40 213.68 L389.62 213.69 L389.84 213.70 L390.05 213.70 L390.27 213.71 L390.48 213.72 L390.70 213.72 L390.92 213.73 L391.13 213.73 L391.35 213.73 L391.57 213.73 L391.78 213.73 L392.00 213.72 L392.22 213.72 L392.43 213.71 L392.65 213.71 L392.87 213.70 L393.08 213.70 L393.30 213.69 L393.52 213.69 L393.73 213.69 L393.95 213.68 L394.16 213.68 L394.38 213.68 L394.60 213.68 L394.81 213.68 L395.03 213.68 L395.25 213.69 L395.46 213.69 L395.68 213.69 L395.90 213.70 L396.11 213.70 L396.33 213.71 L396.55 213.71 L396.76 213.71 L396.98 213.71 L397.19 213.71 L397.41 213.71 L397.63 213.71 L397.84 213.71 L398.06 213.71 L398.28 213.71 L398.49 213.71 L398.71 213.70 L398.93 213.70 L399.14 213.70 L399.36 213.69 L399.58 213.69 L399.79 213.69 L400.01 213.69 L400.23 213.69 L400.44 213.69 L400.66 213.69 L400.87 213.69 L401.09 213.69 L401.31 213.70 L401.52 213.70 L401.74 213.70 L401.96 213.70 L402.17 213.70 L402.39 213.71 L402.61 213.71 L402.82 213.71 L403.04 213.71 L403.26 213.71 L403.47 213.71 L403.69 213.71 L403.90 213.70 L404.12 213.70 L404.34 213.70 L404.55 213.70 L404.77 213.70 L404.99 213.70 L405.20 213.69 L405.42 213.69 L405.64 213.69 L405.85 213.69 L406.07 213.70 L406.29 213.70 L406.50 213.70 L406.72 213.70 L406.94 213.70 L407.15 213.70 L407.37 213.70 L407.58 213.70 L407.80 213.70 L408.02 213.70 L408.23 213.70 L408.45 213.70 L408.67 213.70 L408.88 213.70 L409.10 213.70 L409.32 213.70 L409.53 213.70 L409.75 213.70 L409.97 213.70 L410.18 213.70 L410.40 213.70 L410.61 213.70 L410.83 213.70 L411.05 213.70 L411.26 213.70 L411.48 213.70 L411.70 213.70 L411.91 213.70 L412.13 213.70 L412.35 213.70 L412.56 213.70 L412.78 213.70 L413.00 213.70 L413.21 213.70 L413.43 213.70 L413.65 213.70 L413.86 213.70 L414.08 213.70 L414.29 213.70 L414.51 213.70 L414.73 213.70 L414.94 213.70 L415.16 213.70 L415.38 213.70 L415.59 213.70 L415.81 213.70 L416.03 213.70 L416.24 213.70 L416.46 213.70 L416.68 213.70 L416.89 213.70 L417.11 213.70 L417.32 213.70 L417.54 213.70 L417.76 213.70 L417.97 213.70 L418.19 213.70 L418.41 213.70 L418.62 213.70 L418.84 213.70 L419.06 213.70 L419.27 213.70 L419.49 213.70 L419.71 213.70 L419.92 213.70 L420.14 213.70 L420.36 213.70 L420.57 213.70 L420.79 213.70 L421.00 213.70 L421.22 213.70 L421.44 213.70 L421.65 213.70 L421.87 213.70 L422.09 213.70 L422.30 213.70 L422.52 213.70 L422.74 213.70 L422.95 213.70 L423.17 213.70 L423.39 213.70 L423.60 213.70 L423.82 213.70 L424.03 213.70 L424.25 213.70 L424.47 213.70 L424.68 213.70 L424.90 213.70 L425.12 213.70 L425.33 213.70 L425.55 213.70 L425.77 213.70 L425.98 213.70 L426.20 213.70 L426.42 213.70 L426.63 213.70 L426.85 213.70 L427.07 213.70 L427.28 213.70 L427.50 213.70 L427.71 213.70 L427.93 213.70 L428.15 213.70 L428.36 213.70 L428.58 213.70 L428.80 213.70 L429.01 213.70 L429.23 213.70 L429.45 213.70 L429.66 213.70 L429.88 213.70 L430.10 213.70 L430.31 213.70 L430.53 213.70 L430.74 213.70 L430.96 213.70 L431.18 213.70 L431.39 213.70 L431.61 213.70 L431.83 213.70 L432.04 213.70 L432.26 213.70 L432.48 213.70 L432.69 213.70 L432.91 213.70 L433.13 213.70 L433.34 213.70 L433.56 213.70 L433.78 213.70 L433.99 213.70 L434.21 213.70 L434.42 213.70 L434.64 213.70 L434.86 213.70 L435.07 213.70 L435.29 213.70 L435.51 213.70 L435.72 213.70 L435.94 213.70 L436.16 213.70 L436.37 213.70 L436.59 213.70 L436.81 213.70 L437.02 213.70 L437.24 213.70 L437.45 213.70 L437.67 213.70 L437.89 213.70 L438.10 213.70 L438.32 213.70 L438.54 213.70 L438.75 213.70 L438.97 213.70 L439.19 213.70 L439.40 213.70 L439.62 213.70 L439.84 213.70 L440.05 213.70 L440.27 213.70 L440.49 213.70 L440.70 213.70 L440.92 213.70 L441.13 213.70 L441.35 213.70 L441.57 213.70 L441.78 213.70 L442.00 213.70 L442.22 213.70 L442.43 213.70 L442.65 213.70 L442.87 213.70 L443.08 213.70 L443.30 213.70 L443.52 213.70 L443.73 213.70 L443.95 213.70 L444.16 213.70 L444.38 213.70 L444.60 213.70 L444.81 213.70 L445.03 213.70 L445.25 213.70 L445.46 213.70 L445.68 213.70 L445.90 213.70 L446.11 213.70 L446.33 213.70 L446.55 213.70 L446.76 213.70 L446.98 213.70 L447.20 213.70 L447.41 213.70 L447.63 213.70 L447.84 213.70 L448.06 213.70 L448.28 213.70 L448.49 213.70 L448.71 213.70 L448.93 213.70 L449.14 213.70 L449.36 213.70 L449.58 213.70 L449.79 213.70 L450.01 213.70 L450.23 213.70 L450.44 213.70 L450.66 213.70 L450.87 213.70 L451.09 213.70 L451.31 213.70 L451.52 213.70 L451.74 213.70 L451.96 213.70 L452.17 213.70 L452.39 213.70 L452.61 213.70 L452.82 213.70 L453.04 213.70 L453.26 213.70 L453.47 213.70 L453.69 213.70 L453.91 213.70 L454.12 213.70 L454.34 213.70 L454.55 213.70 L454.77 213.70 L454.99 213.70 L455.20 213.70 L455.42 213.70 L455.64 213.70 L455.85 213.70 L456.07 213.70 L456.29 213.70 L456.50 213.70 L456.72 213.70 L456.94 213.70 L457.15 213.70 L457.37 213.70 L457.58 213.70 L457.80 213.70 L458.02 213.70 L458.23 213.70 L458.45 213.70 L458.67 213.70 L458.88 213.70 L459.10 213.70" fill="none" stroke="#a61c00" stroke-width="2.2" stroke-linejoin="round" stroke-linecap="butt"/>
<line x1="74.62" x2="74.62" y1="257.5" y2="254.5" stroke="#444" stroke-width="0.8"/>
<line x1="142.08" x2="142.08" y1="257.5" y2="254.5" stroke="#444" stroke-width="0.8"/>
<line x1="193.10" x2="193.10" y1="257.5" y2="254.5" stroke="#444" stroke-width="0.8"/>
<line x1="244.12" x2="244.12" y1="257.5" y2="254.5" stroke="#444" stroke-width="0.8"/>
<line x1="311.58" x2="311.58" y1="257.5" y2="254.5" stroke="#444" stroke-width="0.8"/>
<line x1="362.60" x2="362.60" y1="257.5" y2="254.5" stroke="#444" stroke-width="0.8"/>
<line x1="413.62" x2="413.62" y1="257.5" y2="254.5" stroke="#444" stroke-width="0.8"/>
<line x1="443.47" x2="443.47" y1="257.5" y2="254.5" stroke="#444" stroke-width="0.8"/>
<line x1="45.5" x2="49.0" y1="175.46" y2="175.46" stroke="#444" stroke-width="0.8"/>
<line x1="45.5" x2="49.0" y1="197.38" y2="197.38" stroke="#444" stroke-width="0.8"/>
<line x1="45.5" x2="49.0" y1="219.30" y2="219.30" stroke="#444" stroke-width="0.8"/>
<line x1="45.5" x2="49.0" y1="241.22" y2="241.22" stroke="#444" stroke-width="0.8"/>
<path d="M45.5 257.5 V153.5 H461.5 V257.5" fill="none" stroke="#939393" stroke-width="1"/>
<path d="M45.5 257.5 H461.5" fill="none" stroke="#6a6a6a" stroke-width="0.8"/>
<text x="74.62" y="271.8" font-family='"Liberation Serif", serif' font-size="14" text-anchor="middle" fill="#000">2</text>
<text x="142.08" y="271.8" font-family='"Liberation Serif", serif' font-size="14" text-anchor="middle" fill="#000">5</text>
<text x="193.10" y="271.8" font-family='"Liberation Serif", serif' font-size="14" text-anchor="middle" fill="#000">10</text>
<text x="244.12" y="271.8" font-family='"Liberation Serif", serif' font-size="14" text-anchor="middle" fill="#000">20</text>
<text x="311.58" y="271.8" font-family='"Liberation Serif", serif' font-size="14" text-anchor="middle" fill="#000">50</text>
<text x="362.60" y="271.8" font-family='"Liberation Serif", serif' font-size="14" text-anchor="middle" fill="#000">100</text>
<text x="413.62" y="271.8" font-family='"Liberation Serif", serif' font-size="14" text-anchor="middle" fill="#000">200</text>
<text x="443.47" y="271.8" font-family='"Liberation Serif", serif' font-size="14" text-anchor="middle" fill="#000">300</text>
<text x="41.3" y="179.66" font-family='"Liberation Serif", serif' font-size="14" text-anchor="end" fill="#000">4</text>
<text x="41.3" y="201.58" font-family='"Liberation Serif", serif' font-size="14" text-anchor="end" fill="#000">2</text>
<text x="41.3" y="223.50" font-family='"Liberation Serif", serif' font-size="14" text-anchor="end" fill="#000">0</text>
<text x="41.3" y="245.42" font-family='"Liberation Serif", serif' font-size="14" text-anchor="end" fill="#000">−2</text>
<text x="186.6" y="295.9" font-family='"Liberation Sans", sans-serif' font-size="14" fill="#000">Protocol time</text>
<text x="274.3" y="295.9" font-family='"Liberation Sans", sans-serif' font-style="italic" font-size="13.5" fill="#000">t</text>
<text x="279.7" y="298.9" font-family='"Liberation Sans", sans-serif' font-style="italic" font-size="9.5" fill="#000">f</text>
<text x="284.9" y="295.9" font-family='"Liberation Sans", sans-serif' font-size="14.5" fill="#000">(</text>
<text x="291.2" y="295.9" font-family='"Liberation Serif", serif' font-style="italic" font-size="16" fill="#000">ω</text>
<text x="302.2" y="289.9" font-family='"Liberation Sans", sans-serif' font-size="10" fill="#000">−</text>
<text x="309.6" y="289.9" font-family='"Liberation Sans", sans-serif' font-size="10" fill="#000">1</text>
<text x="302.4" y="299.2" font-family='"Liberation Sans", sans-serif' font-style="italic" font-size="10.5" fill="#000">c</text>
<text x="316.6" y="295.9" font-family='"Liberation Sans", sans-serif' font-size="14.5" fill="#000">)</text>
<g transform="translate(12.0,223.2) rotate(-90)">
<text x="0" y="0" font-family='"Liberation Serif", serif' font-size="14" fill="#000">Φ</text>
<text x="10.4" y="3.6" font-family='"Liberation Sans", sans-serif' font-size="9.5" fill="#000">q</text>
<text x="15.6" y="0" font-family='"Liberation Serif", serif' font-size="15" fill="#000">(</text>
<text x="21.2" y="0" font-family='"Liberation Sans", sans-serif' font-style="italic" font-size="14" fill="#000">t</text>
<text x="25.9" y="2.8" font-family='"Liberation Sans", sans-serif' font-style="italic" font-size="10" fill="#000">f</text>
<text x="30.4" y="0" font-family='"Liberation Serif", serif' font-size="15" fill="#000">)</text>
</g>
<text x="10.3" y="289.2" font-family='"Liberation Sans", sans-serif' font-size="15" fill="#000">(b)</text>
<line x1="76.44" x2="76.44" y1="313.0" y2="416.5" stroke="#8c8c8c" stroke-width="0.6"/>
<line x1="143.66" x2="143.66" y1="313.0" y2="416.5" stroke="#8c8c8c" stroke-width="0.6"/>
<line x1="194.50" x2="194.50" y1="313.0" y2="416.5" stroke="#8c8c8c" stroke-width="0.6"/>
<line x1="245.34" x2="245.34" y1="313.0" y2="416.5" stroke="#8c8c8c" stroke-width="0.6"/>
<line x1="312.56" x2="312.56" y1="313.0" y2="416.5" stroke="#8c8c8c" stroke-width="0.6"/>
<line x1="363.40" x2="363.40" y1="313.0" y2="416.5" stroke="#8c8c8c" stroke-width="0.6"/>
<line x1="414.24" x2="414.24" y1="313.0" y2="416.5" stroke="#8c8c8c" stroke-width="0.6"/>
<line x1="443.99" x2="443.99" y1="313.0" y2="416.5" stroke="#8c8c8c" stroke-width="0.6"/>
<line x1="47.5" x2="461.5" y1="333.55" y2="333.55" stroke="#8c8c8c" stroke-width="0.6"/>
<line x1="47.5" x2="461.5" y1="360.85" y2="360.85" stroke="#8c8c8c" stroke-width="0.6"/>
<line x1="47.5" x2="461.5" y1="381.50" y2="381.50" stroke="#8c8c8c" stroke-width="0.6"/>
<line x1="53.8" x2="456.2" y1="333.3" y2="333.3" stroke="#9ccfe2" stroke-width="1.7"/>
<path d="M53.80 407.70 L54.76 406.74 L55.72 405.79 L56.68 404.83 L57.64 403.87 L58.60 402.91 L59.56 401.95 L60.52 400.99 L61.48 400.03 L62.44 399.07 L63.40 398.10 L64.36 397.14 L65.32 396.17 L66.28 395.21 L67.25 394.25 L68.21 393.28 L69.17 392.32 L70.13 391.35 L71.09 390.39 L72.05 389.42 L73.01 388.45 L73.97 387.48 L74.93 386.50 L75.89 385.52 L76.85 384.54 L77.81 383.56 L78.77 382.57 L79.73 381.58 L80.69 380.59 L81.65 379.59 L82.61 378.59 L83.57 377.60 L84.53 376.60 L85.49 375.60 L86.45 374.60 L87.41 373.61 L88.37 372.61 L89.33 371.63 L90.29 370.66 L91.25 369.70 L92.22 368.73 L93.18 367.77 L94.14 366.80 L95.10 365.81 L96.06 364.82 L97.02 363.80 L97.98 362.76 L98.94 361.70 L99.90 360.59 L100.86 359.45 L101.82 358.26 L102.78 357.06 L103.74 355.84 L104.70 354.62 L105.66 353.42 L106.62 352.23 L107.58 351.01 L108.54 349.78 L109.50 348.56 L110.46 347.36 L111.42 346.19 L112.38 345.08 L113.34 344.03 L114.30 343.03 L115.26 342.07 L116.22 341.14 L117.19 340.24 L118.15 339.36 L119.11 338.49 L120.07 337.63 L121.03 336.77 L121.99 335.91 L122.95 335.07 L123.91 334.26 L124.87 333.49 L125.83 332.79 L126.79 332.14 L127.75 331.53 L128.71 330.95 L129.67 330.40 L130.63 329.87 L131.59 329.37 L132.55 328.89 L133.51 328.43 L134.47 327.98 L135.43 327.55 L136.39 327.14 L137.35 326.73 L138.31 326.34 L139.27 325.96 L140.23 325.61 L141.19 325.27 L142.16 324.95 L143.12 324.65 L144.08 324.38 L145.04 324.11 L146.00 323.85 L146.96 323.61 L147.92 323.39 L148.88 323.19 L149.84 323.02 L150.80 322.88 L151.76 322.73 L152.72 322.59 L153.68 322.46 L154.64 322.35 L155.60 322.27 L156.56 322.22 L157.52 322.20 L158.48 322.23 L159.44 322.29 L160.40 322.39 L161.36 322.51 L162.32 322.64 L163.28 322.79 L164.24 322.94 L165.20 323.13 L166.16 323.37 L167.13 323.65 L168.09 323.95 L169.05 324.28 L170.01 324.62 L170.97 324.97 L171.93 325.36 L172.89 325.79 L173.85 326.24 L174.81 326.71 L175.77 327.19 L176.73 327.67 L177.69 328.15 L178.65 328.65 L179.61 329.17 L180.57 329.69 L181.53 330.21 L182.49 330.73 L183.45 331.22 L184.41 331.71 L185.37 332.19 L186.33 332.67 L187.29 333.13 L188.25 333.57 L189.21 333.99 L190.17 334.39 L191.13 334.77 L192.09 335.14 L193.06 335.49 L194.02 335.83 L194.98 336.16 L195.94 336.50 L196.90 336.83 L197.86 337.12 L198.82 337.36 L199.78 337.56 L200.74 337.76 L201.70 337.94 L202.66 338.08 L203.62 338.17 L204.58 338.20 L205.54 338.20 L206.50 338.20 L207.46 338.20 L208.42 338.20 L209.38 338.20 L210.34 338.19 L211.30 338.13 L212.26 338.02 L213.22 337.87 L214.18 337.71 L215.14 337.56 L216.10 337.41 L217.06 337.24 L218.03 337.06 L218.99 336.86 L219.95 336.64 L220.91 336.39 L221.87 336.09 L222.83 335.77 L223.79 335.43 L224.75 335.09 L225.71 334.76 L226.67 334.44 L227.63 334.12 L228.59 333.77 L229.55 333.39 L230.51 332.95 L231.47 332.39 L232.43 331.77 L233.39 331.17 L234.35 330.67 L235.31 330.23 L236.27 329.79 L237.23 329.40 L238.19 329.12 L239.15 329.00 L240.11 329.07 L241.07 329.27 L242.03 329.55 L243.00 329.87 L243.96 330.19 L244.92 330.52 L245.88 330.91 L246.84 331.33 L247.80 331.73 L248.76 332.09 L249.72 332.43 L250.68 332.74 L251.64 333.04 L252.60 333.30 L253.56 333.54 L254.52 333.77 L255.48 333.97 L256.44 334.13 L257.40 334.24 L258.36 334.35 L259.32 334.43 L260.28 334.49 L261.24 334.50 L262.20 334.46 L263.16 334.37 L264.12 334.25 L265.08 334.12 L266.04 333.99 L267.00 333.86 L267.97 333.71 L268.93 333.53 L269.89 333.33 L270.85 333.07 L271.81 332.74 L272.77 332.37 L273.73 332.01 L274.69 331.69 L275.65 331.42 L276.61 331.14 L277.57 330.88 L278.53 330.69 L279.49 330.60 L280.45 330.66 L281.41 330.85 L282.37 331.11 L283.33 331.40 L284.29 331.68 L285.25 332.01 L286.21 332.37 L287.17 332.73 L288.13 333.04 L289.09 333.35 L290.05 333.66 L291.01 333.90 L291.97 334.00 L292.94 333.97 L293.90 333.89 L294.86 333.77 L295.82 333.63 L296.78 333.44 L297.74 333.14 L298.70 332.80 L299.66 332.49 L300.62 332.24 L301.58 331.99 L302.54 331.82 L303.50 331.84 L304.46 332.07 L305.42 332.41 L306.38 332.73 L307.34 333.15 L308.30 333.54 L309.26 333.73 L310.22 333.82 L311.18 333.88 L312.14 333.90 L313.10 333.78 L314.06 333.54 L315.02 333.25 L315.98 333.00 L316.94 332.77 L317.91 332.53 L318.87 332.40 L319.83 332.48 L320.79 332.69 L321.75 332.94 L322.71 333.19 L323.67 333.48 L324.63 333.68 L325.59 333.70 L326.55 333.67 L327.51 333.63 L328.47 333.53 L329.43 333.20 L330.39 332.88 L331.35 332.80 L332.31 332.80 L333.27 332.80 L334.23 332.81 L335.19 333.04 L336.15 333.36 L337.11 333.50 L338.07 333.50 L339.03 333.50 L339.99 333.50 L340.95 333.38 L341.91 333.15 L342.87 333.00 L343.84 333.00 L344.80 333.00 L345.76 333.00 L346.72 333.06 L347.68 333.24 L348.64 333.38 L349.60 333.40 L350.56 333.40 L351.52 333.40 L352.48 333.40 L353.44 333.40 L354.40 333.40 L355.36 333.40 L356.32 333.40 L357.28 333.40 L358.24 333.40 L359.20 333.40 L360.16 333.40 L361.12 333.40 L362.08 333.40 L363.04 333.40 L364.00 333.40 L364.96 333.40 L365.92 333.40 L366.88 333.40 L367.84 333.40 L368.81 333.40 L369.77 333.40 L370.73 333.40 L371.69 333.40 L372.65 333.40 L373.61 333.40 L374.57 333.40 L375.53 333.39 L376.49 333.39 L377.45 333.39 L378.41 333.39 L379.37 333.39 L380.33 333.39 L381.29 333.39 L382.25 333.39 L383.21 333.39 L384.17 333.39 L385.13 333.39 L386.09 333.39 L387.05 333.39 L388.01 333.39 L388.97 333.39 L389.93 333.39 L390.89 333.39 L391.85 333.39 L392.81 333.38 L393.78 333.38 L394.74 333.38 L395.70 333.38 L396.66 333.38 L397.62 333.38 L398.58 333.38 L399.54 333.38 L400.50 333.38 L401.46 333.38 L402.42 333.38 L403.38 333.38 L404.34 333.37 L405.30 333.37 L406.26 333.37 L407.22 333.37 L408.18 333.37 L409.14 333.37 L410.10 333.37 L411.06 333.37 L412.02 333.37 L412.98 333.37 L413.94 333.36 L414.90 333.36 L415.86 333.36 L416.82 333.36 L417.78 333.36 L418.75 333.36 L419.71 333.36 L420.67 333.36 L421.63 333.35 L422.59 333.35 L423.55 333.35 L424.51 333.35 L425.47 333.35 L426.43 333.35 L427.39 333.35 L428.35 333.35 L429.31 333.34 L430.27 333.34 L431.23 333.34 L432.19 333.34 L433.15 333.34 L434.11 333.34 L435.07 333.34 L436.03 333.33 L436.99 333.33 L437.95 333.33 L438.91 333.33 L439.87 333.33 L440.83 333.33 L441.79 333.33 L442.75 333.32 L443.72 333.32 L444.68 333.32 L445.64 333.32 L446.60 333.32 L447.56 333.32 L448.52 333.31 L449.48 333.31 L450.44 333.31 L451.40 333.31 L452.36 333.31 L453.32 333.31 L454.28 333.30 L455.24 333.30 L456.20 333.30" fill="none" stroke="#00008b" stroke-width="2.2" stroke-dasharray="7.08 2.63" stroke-dashoffset="0" stroke-linejoin="round"/>
<path d="M53.80 371.80 L54.76 371.28 L55.72 370.77 L56.68 370.26 L57.64 369.75 L58.60 369.25 L59.56 368.75 L60.52 368.25 L61.48 367.76 L62.44 367.27 L63.40 366.79 L64.36 366.31 L65.32 365.84 L66.28 365.37 L67.25 364.90 L68.21 364.43 L69.17 363.97 L70.13 363.51 L71.09 363.05 L72.05 362.60 L73.01 362.16 L73.97 361.72 L74.93 361.29 L75.89 360.87 L76.85 360.45 L77.81 360.04 L78.77 359.64 L79.73 359.25 L80.69 358.86 L81.65 358.48 L82.61 358.10 L83.57 357.72 L84.53 357.35 L85.49 356.98 L86.45 356.60 L87.41 356.23 L88.37 355.85 L89.33 355.48 L90.29 355.12 L91.25 354.76 L92.22 354.40 L93.18 354.05 L94.14 353.69 L95.10 353.33 L96.06 352.96 L97.02 352.58 L97.98 352.20 L98.94 351.81 L99.90 351.40 L100.86 350.97 L101.82 350.52 L102.78 350.06 L103.74 349.59 L104.70 349.11 L105.66 348.63 L106.62 348.15 L107.58 347.68 L108.54 347.22 L109.50 346.76 L110.46 346.33 L111.42 345.92 L112.38 345.53 L113.34 345.17 L114.30 344.83 L115.26 344.49 L116.22 344.16 L117.19 343.84 L118.15 343.53 L119.11 343.23 L120.07 342.94 L121.03 342.65 L121.99 342.38 L122.95 342.11 L123.91 341.85 L124.87 341.61 L125.83 341.37 L126.79 341.13 L127.75 340.91 L128.71 340.69 L129.67 340.48 L130.63 340.27 L131.59 340.07 L132.55 339.87 L133.51 339.68 L134.47 339.49 L135.43 339.30 L136.39 339.12 L137.35 338.94 L138.31 338.77 L139.27 338.60 L140.23 338.43 L141.19 338.26 L142.16 338.09 L143.12 337.93 L144.08 337.77 L145.04 337.61 L146.00 337.45 L146.96 337.29 L147.92 337.13 L148.88 336.98 L149.84 336.83 L150.80 336.68 L151.76 336.54 L152.72 336.40 L153.68 336.27 L154.64 336.14 L155.60 336.01 L156.56 335.90 L157.52 335.79 L158.48 335.68 L159.44 335.58 L160.40 335.47 L161.36 335.38 L162.32 335.28 L163.28 335.19 L164.24 335.10 L165.20 335.01 L166.16 334.93 L167.13 334.85 L168.09 334.77 L169.05 334.70 L170.01 334.63 L170.97 334.57 L171.93 334.51 L172.89 334.44 L173.85 334.38 L174.81 334.33 L175.77 334.27 L176.73 334.22 L177.69 334.16 L178.65 334.11 L179.61 334.07 L180.57 334.02 L181.53 333.98 L182.49 333.94 L183.45 333.91 L184.41 333.87 L185.37 333.84 L186.33 333.80 L187.29 333.77 L188.25 333.74 L189.21 333.71 L190.17 333.69 L191.13 333.66 L192.09 333.64 L193.06 333.62 L194.02 333.61 L194.98 333.59 L195.94 333.58 L196.90 333.57 L197.86 333.56 L198.82 333.55 L199.78 333.53 L200.74 333.52 L201.70 333.51 L202.66 333.50 L203.62 333.49 L204.58 333.48 L205.54 333.48 L206.50 333.47 L207.46 333.46 L208.42 333.45 L209.38 333.44 L210.34 333.44 L211.30 333.43 L212.26 333.43 L213.22 333.42 L214.18 333.42 L215.14 333.41 L216.10 333.41 L217.06 333.41 L218.03 333.40 L218.99 333.40 L219.95 333.40 L220.91 333.40 L221.87 333.40 L222.83 333.40 L223.79 333.40 L224.75 333.40 L225.71 333.39 L226.67 333.39 L227.63 333.39 L228.59 333.39 L229.55 333.39 L230.51 333.39 L231.47 333.39 L232.43 333.39 L233.39 333.39 L234.35 333.39 L235.31 333.38 L236.27 333.38 L237.23 333.38 L238.19 333.38 L239.15 333.38 L240.11 333.38 L241.07 333.38 L242.03 333.38 L243.00 333.38 L243.96 333.38 L244.92 333.38 L245.88 333.37 L246.84 333.37 L247.80 333.37 L248.76 333.37 L249.72 333.37 L250.68 333.37 L251.64 333.37 L252.60 333.37 L253.56 333.37 L254.52 333.37 L255.48 333.37 L256.44 333.37 L257.40 333.37 L258.36 333.36 L259.32 333.36 L260.28 333.36 L261.24 333.36 L262.20 333.36 L263.16 333.36 L264.12 333.36 L265.08 333.36 L266.04 333.36 L267.00 333.36 L267.97 333.36 L268.93 333.36 L269.89 333.36 L270.85 333.35 L271.81 333.35 L272.77 333.35 L273.73 333.35 L274.69 333.35 L275.65 333.35 L276.61 333.35 L277.57 333.35 L278.53 333.35 L279.49 333.35 L280.45 333.35 L281.41 333.35 L282.37 333.35 L283.33 333.35 L284.29 333.35 L285.25 333.35 L286.21 333.34 L287.17 333.34 L288.13 333.34 L289.09 333.34 L290.05 333.34 L291.01 333.34 L291.97 333.34 L292.94 333.34 L293.90 333.34 L294.86 333.34 L295.82 333.34 L296.78 333.34 L297.74 333.34 L298.70 333.34 L299.66 333.34 L300.62 333.34 L301.58 333.34 L302.54 333.33 L303.50 333.33 L304.46 333.33 L305.42 333.33 L306.38 333.33 L307.34 333.33 L308.30 333.33 L309.26 333.33 L310.22 333.33 L311.18 333.33 L312.14 333.33 L313.10 333.33 L314.06 333.33 L315.02 333.33 L315.98 333.33 L316.94 333.33 L317.91 333.33 L318.87 333.33 L319.83 333.33 L320.79 333.33 L321.75 333.33 L322.71 333.33 L323.67 333.32 L324.63 333.32 L325.59 333.32 L326.55 333.32 L327.51 333.32 L328.47 333.32 L329.43 333.32 L330.39 333.32 L331.35 333.32 L332.31 333.32 L333.27 333.32 L334.23 333.32 L335.19 333.32 L336.15 333.32 L337.11 333.32 L338.07 333.32 L339.03 333.32 L339.99 333.32 L340.95 333.32 L341.91 333.32 L342.87 333.32 L343.84 333.32 L344.80 333.32 L345.76 333.32 L346.72 333.32 L347.68 333.32 L348.64 333.32 L349.60 333.31 L350.56 333.31 L351.52 333.31 L352.48 333.31 L353.44 333.31 L354.40 333.31 L355.36 333.31 L356.32 333.31 L357.28 333.31 L358.24 333.31 L359.20 333.31 L360.16 333.31 L361.12 333.31 L362.08 333.31 L363.04 333.31 L364.00 333.31 L364.96 333.31 L365.92 333.31 L366.88 333.31 L367.84 333.31 L368.81 333.31 L369.77 333.31 L370.73 333.31 L371.69 333.31 L372.65 333.31 L373.61 333.31 L374.57 333.31 L375.53 333.31 L376.49 333.31 L377.45 333.31 L378.41 333.31 L379.37 333.31 L380.33 333.31 L381.29 333.31 L382.25 333.31 L383.21 333.31 L384.17 333.31 L385.13 333.31 L386.09 333.31 L387.05 333.31 L388.01 333.31 L388.97 333.31 L389.93 333.31 L390.89 333.30 L391.85 333.30 L392.81 333.30 L393.78 333.30 L394.74 333.30 L395.70 333.30 L396.66 333.30 L397.62 333.30 L398.58 333.30 L399.54 333.30 L400.50 333.30 L401.46 333.30 L402.42 333.30 L403.38 333.30 L404.34 333.30 L405.30 333.30 L406.26 333.30 L407.22 333.30 L408.18 333.30 L409.14 333.30 L410.10 333.30 L411.06 333.30 L412.02 333.30 L412.98 333.30 L413.94 333.30 L414.90 333.30 L415.86 333.30 L416.82 333.30 L417.78 333.30 L418.75 333.30 L419.71 333.30 L420.67 333.30 L421.63 333.30 L422.59 333.30 L423.55 333.30 L424.51 333.30 L425.47 333.30 L426.43 333.30 L427.39 333.30 L428.35 333.30 L429.31 333.30 L430.27 333.30 L431.23 333.30 L432.19 333.30 L433.15 333.30 L434.11 333.30 L435.07 333.30 L436.03 333.30 L436.99 333.30 L437.95 333.30 L438.91 333.30 L439.87 333.30 L440.83 333.30 L441.79 333.30 L442.75 333.30 L443.72 333.30 L444.68 333.30 L445.64 333.30 L446.60 333.30 L447.56 333.30 L448.52 333.30 L449.48 333.30 L450.44 333.30 L451.40 333.30 L452.36 333.30 L453.32 333.30 L454.28 333.30 L455.24 333.30 L456.20 333.30" fill="none" stroke="#ff8000" stroke-width="2.2" stroke-dasharray="3 2.5" stroke-dashoffset="0" stroke-linejoin="round"/>
<path d="M53.80 382.80 L54.76 382.18 L55.72 381.57 L56.68 380.96 L57.64 380.36 L58.60 379.76 L59.56 379.18 L60.52 378.60 L61.48 378.03 L62.44 377.46 L63.40 376.91 L64.36 376.36 L65.32 375.82 L66.28 375.28 L67.25 374.76 L68.21 374.24 L69.17 373.72 L70.13 373.22 L71.09 372.71 L72.05 372.22 L73.01 371.73 L73.97 371.25 L74.93 370.77 L75.89 370.30 L76.85 369.83 L77.81 369.37 L78.77 368.91 L79.73 368.46 L80.69 368.01 L81.65 367.57 L82.61 367.13 L83.57 366.70 L84.53 366.27 L85.49 365.86 L86.45 365.44 L87.41 365.04 L88.37 364.65 L89.33 364.27 L90.29 363.90 L91.25 363.54 L92.22 363.18 L93.18 362.83 L94.14 362.49 L95.10 362.14 L96.06 361.79 L97.02 361.44 L97.98 361.07 L98.94 360.70 L99.90 360.32 L100.86 359.93 L101.82 359.53 L102.78 359.12 L103.74 358.71 L104.70 358.29 L105.66 357.88 L106.62 357.46 L107.58 357.04 L108.54 356.63 L109.50 356.22 L110.46 355.82 L111.42 355.43 L112.38 355.04 L113.34 354.67 L114.30 354.30 L115.26 353.93 L116.22 353.56 L117.19 353.19 L118.15 352.83 L119.11 352.47 L120.07 352.12 L121.03 351.78 L121.99 351.44 L122.95 351.11 L123.91 350.79 L124.87 350.48 L125.83 350.18 L126.79 349.89 L127.75 349.61 L128.71 349.33 L129.67 349.06 L130.63 348.79 L131.59 348.53 L132.55 348.27 L133.51 348.02 L134.47 347.77 L135.43 347.53 L136.39 347.29 L137.35 347.05 L138.31 346.82 L139.27 346.60 L140.23 346.38 L141.19 346.16 L142.16 345.95 L143.12 345.74 L144.08 345.54 L145.04 345.34 L146.00 345.15 L146.96 344.96 L147.92 344.78 L148.88 344.60 L149.84 344.42 L150.80 344.25 L151.76 344.07 L152.72 343.91 L153.68 343.74 L154.64 343.57 L155.60 343.41 L156.56 343.24 L157.52 343.08 L158.48 342.92 L159.44 342.75 L160.40 342.59 L161.36 342.43 L162.32 342.28 L163.28 342.12 L164.24 341.96 L165.20 341.81 L166.16 341.66 L167.13 341.51 L168.09 341.36 L169.05 341.22 L170.01 341.07 L170.97 340.93 L171.93 340.79 L172.89 340.65 L173.85 340.50 L174.81 340.36 L175.77 340.22 L176.73 340.08 L177.69 339.95 L178.65 339.81 L179.61 339.69 L180.57 339.56 L181.53 339.44 L182.49 339.33 L183.45 339.22 L184.41 339.11 L185.37 339.01 L186.33 338.92 L187.29 338.82 L188.25 338.73 L189.21 338.64 L190.17 338.56 L191.13 338.48 L192.09 338.40 L193.06 338.32 L194.02 338.24 L194.98 338.16 L195.94 338.09 L196.90 338.02 L197.86 337.94 L198.82 337.88 L199.78 337.81 L200.74 337.74 L201.70 337.68 L202.66 337.61 L203.62 337.55 L204.58 337.49 L205.54 337.43 L206.50 337.37 L207.46 337.31 L208.42 337.25 L209.38 337.20 L210.34 337.14 L211.30 337.08 L212.26 337.03 L213.22 336.98 L214.18 336.92 L215.14 336.87 L216.10 336.82 L217.06 336.76 L218.03 336.71 L218.99 336.66 L219.95 336.61 L220.91 336.56 L221.87 336.50 L222.83 336.45 L223.79 336.40 L224.75 336.35 L225.71 336.29 L226.67 336.24 L227.63 336.19 L228.59 336.13 L229.55 336.08 L230.51 336.03 L231.47 335.98 L232.43 335.93 L233.39 335.89 L234.35 335.84 L235.31 335.79 L236.27 335.75 L237.23 335.71 L238.19 335.67 L239.15 335.63 L240.11 335.60 L241.07 335.56 L242.03 335.53 L243.00 335.49 L243.96 335.46 L244.92 335.43 L245.88 335.40 L246.84 335.37 L247.80 335.34 L248.76 335.31 L249.72 335.28 L250.68 335.25 L251.64 335.22 L252.60 335.20 L253.56 335.17 L254.52 335.15 L255.48 335.12 L256.44 335.10 L257.40 335.07 L258.36 335.05 L259.32 335.02 L260.28 335.00 L261.24 334.98 L262.20 334.96 L263.16 334.94 L264.12 334.92 L265.08 334.90 L266.04 334.88 L267.00 334.86 L267.97 334.84 L268.93 334.82 L269.89 334.81 L270.85 334.79 L271.81 334.77 L272.77 334.76 L273.73 334.74 L274.69 334.72 L275.65 334.71 L276.61 334.69 L277.57 334.68 L278.53 334.66 L279.49 334.65 L280.45 334.64 L281.41 334.62 L282.37 334.61 L283.33 334.59 L284.29 334.58 L285.25 334.57 L286.21 334.55 L287.17 334.54 L288.13 334.53 L289.09 334.51 L290.05 334.50 L291.01 334.49 L291.97 334.47 L292.94 334.46 L293.90 334.45 L294.86 334.43 L295.82 334.42 L296.78 334.40 L297.74 334.39 L298.70 334.38 L299.66 334.37 L300.62 334.35 L301.58 334.34 L302.54 334.33 L303.50 334.31 L304.46 334.30 L305.42 334.29 L306.38 334.28 L307.34 334.26 L308.30 334.25 L309.26 334.24 L310.22 334.23 L311.18 334.21 L312.14 334.20 L313.10 334.19 L314.06 334.18 L315.02 334.17 L315.98 334.15 L316.94 334.14 L317.91 334.13 L318.87 334.12 L319.83 334.11 L320.79 334.10 L321.75 334.09 L322.71 334.08 L323.67 334.07 L324.63 334.06 L325.59 334.05 L326.55 334.04 L327.51 334.03 L328.47 334.02 L329.43 334.01 L330.39 334.00 L331.35 333.99 L332.31 333.98 L333.27 333.97 L334.23 333.96 L335.19 333.95 L336.15 333.94 L337.11 333.93 L338.07 333.92 L339.03 333.91 L339.99 333.90 L340.95 333.89 L341.91 333.88 L342.87 333.87 L343.84 333.87 L344.80 333.86 L345.76 333.85 L346.72 333.84 L347.68 333.83 L348.64 333.82 L349.60 333.81 L350.56 333.80 L351.52 333.79 L352.48 333.79 L353.44 333.78 L354.40 333.77 L355.36 333.76 L356.32 333.75 L357.28 333.75 L358.24 333.74 L359.20 333.73 L360.16 333.72 L361.12 333.71 L362.08 333.71 L363.04 333.70 L364.00 333.69 L364.96 333.69 L365.92 333.68 L366.88 333.67 L367.84 333.67 L368.81 333.66 L369.77 333.65 L370.73 333.65 L371.69 333.64 L372.65 333.64 L373.61 333.63 L374.57 333.63 L375.53 333.62 L376.49 333.62 L377.45 333.61 L378.41 333.61 L379.37 333.60 L380.33 333.60 L381.29 333.59 L382.25 333.59 L383.21 333.59 L384.17 333.58 L385.13 333.58 L386.09 333.58 L387.05 333.57 L388.01 333.57 L388.97 333.56 L389.93 333.56 L390.89 333.56 L391.85 333.55 L392.81 333.55 L393.78 333.54 L394.74 333.54 L395.70 333.54 L396.66 333.53 L397.62 333.53 L398.58 333.53 L399.54 333.52 L400.50 333.52 L401.46 333.52 L402.42 333.51 L403.38 333.51 L404.34 333.51 L405.30 333.50 L406.26 333.50 L407.22 333.50 L408.18 333.49 L409.14 333.49 L410.10 333.49 L411.06 333.48 L412.02 333.48 L412.98 333.48 L413.94 333.47 L414.90 333.47 L415.86 333.47 L416.82 333.46 L417.78 333.46 L418.75 333.46 L419.71 333.46 L420.67 333.45 L421.63 333.45 L422.59 333.45 L423.55 333.45 L424.51 333.44 L425.47 333.44 L426.43 333.44 L427.39 333.44 L428.35 333.43 L429.31 333.43 L430.27 333.43 L431.23 333.43 L432.19 333.43 L433.15 333.42 L434.11 333.42 L435.07 333.42 L436.03 333.42 L436.99 333.42 L437.95 333.42 L438.91 333.41 L439.87 333.41 L440.83 333.41 L441.79 333.41 L442.75 333.41 L443.72 333.41 L444.68 333.41 L445.64 333.41 L446.60 333.40 L447.56 333.40 L448.52 333.40 L449.48 333.40 L450.44 333.40 L451.40 333.40 L452.36 333.40 L453.32 333.40 L454.28 333.40 L455.24 333.40 L456.20 333.40" fill="none" stroke="#006400" stroke-width="2.2" stroke-dasharray="7 2.3 3 2.3" stroke-dashoffset="0" stroke-linejoin="round"/>
<path d="M53.80 402.20 L54.76 401.35 L55.72 400.50 L56.68 399.66 L57.64 398.82 L58.60 397.99 L59.56 397.15 L60.52 396.32 L61.48 395.50 L62.44 394.67 L63.40 393.85 L64.36 393.04 L65.32 392.23 L66.28 391.42 L67.25 390.63 L68.21 389.85 L69.17 389.06 L70.13 388.29 L71.09 387.51 L72.05 386.73 L73.01 385.94 L73.97 385.15 L74.93 384.34 L75.89 383.53 L76.85 382.70 L77.81 381.85 L78.77 381.00 L79.73 380.13 L80.69 379.26 L81.65 378.38 L82.61 377.49 L83.57 376.60 L84.53 375.71 L85.49 374.82 L86.45 373.93 L87.41 373.04 L88.37 372.16 L89.33 371.27 L90.29 370.37 L91.25 369.48 L92.22 368.58 L93.18 367.68 L94.14 366.79 L95.10 365.89 L96.06 365.00 L97.02 364.11 L97.98 363.22 L98.94 362.34 L99.90 361.46 L100.86 360.57 L101.82 359.68 L102.78 358.79 L103.74 357.93 L104.70 357.08 L105.66 356.28 L106.62 355.51 L107.58 354.76 L108.54 354.03 L109.50 353.32 L110.46 352.64 L111.42 351.96 L112.38 351.31 L113.34 350.67 L114.30 350.06 L115.26 349.46 L116.22 348.88 L117.19 348.31 L118.15 347.75 L119.11 347.19 L120.07 346.62 L121.03 346.04 L121.99 345.44 L122.95 344.84 L123.91 344.26 L124.87 343.72 L125.83 343.23 L126.79 342.79 L127.75 342.38 L128.71 342.00 L129.67 341.63 L130.63 341.29 L131.59 340.96 L132.55 340.65 L133.51 340.35 L134.47 340.06 L135.43 339.79 L136.39 339.53 L137.35 339.28 L138.31 339.04 L139.27 338.80 L140.23 338.58 L141.19 338.36 L142.16 338.15 L143.12 337.94 L144.08 337.73 L145.04 337.53 L146.00 337.33 L146.96 337.13 L147.92 336.93 L148.88 336.74 L149.84 336.55 L150.80 336.37 L151.76 336.19 L152.72 336.02 L153.68 335.85 L154.64 335.70 L155.60 335.55 L156.56 335.41 L157.52 335.28 L158.48 335.16 L159.44 335.04 L160.40 334.93 L161.36 334.81 L162.32 334.70 L163.28 334.60 L164.24 334.50 L165.20 334.41 L166.16 334.32 L167.13 334.23 L168.09 334.16 L169.05 334.09 L170.01 334.03 L170.97 333.97 L171.93 333.92 L172.89 333.88 L173.85 333.83 L174.81 333.79 L175.77 333.75 L176.73 333.71 L177.69 333.68 L178.65 333.64 L179.61 333.61 L180.57 333.58 L181.53 333.55 L182.49 333.53 L183.45 333.50 L184.41 333.48 L185.37 333.46 L186.33 333.43 L187.29 333.41 L188.25 333.38 L189.21 333.36 L190.17 333.34 L191.13 333.33 L192.09 333.31 L193.06 333.31 L194.02 333.30 L194.98 333.30 L195.94 333.30 L196.90 333.30 L197.86 333.30 L198.82 333.30 L199.78 333.30 L200.74 333.30 L201.70 333.30 L202.66 333.30 L203.62 333.30 L204.58 333.30 L205.54 333.30 L206.50 333.30 L207.46 333.30 L208.42 333.30 L209.38 333.30 L210.34 333.30 L211.30 333.30 L212.26 333.30 L213.22 333.30 L214.18 333.30 L215.14 333.30 L216.10 333.30 L217.06 333.30 L218.03 333.30 L218.99 333.30 L219.95 333.30 L220.91 333.30 L221.87 333.30 L222.83 333.30 L223.79 333.30 L224.75 333.30 L225.71 333.30 L226.67 333.30 L227.63 333.30 L228.59 333.30 L229.55 333.30 L230.51 333.30 L231.47 333.30 L232.43 333.30 L233.39 333.30 L234.35 333.30 L235.31 333.30 L236.27 333.30 L237.23 333.30 L238.19 333.30 L239.15 333.30 L240.11 333.30 L241.07 333.30 L242.03 333.30 L243.00 333.30 L243.96 333.30 L244.92 333.30 L245.88 333.30 L246.84 333.30 L247.80 333.30 L248.76 333.30 L249.72 333.30 L250.68 333.30 L251.64 333.30 L252.60 333.30 L253.56 333.30 L254.52 333.30 L255.48 333.30 L256.44 333.30 L257.40 333.30 L258.36 333.30 L259.32 333.30 L260.28 333.30 L261.24 333.30 L262.20 333.30 L263.16 333.30 L264.12 333.30 L265.08 333.30 L266.04 333.30 L267.00 333.30 L267.97 333.30 L268.93 333.30 L269.89 333.30 L270.85 333.30 L271.81 333.30 L272.77 333.30 L273.73 333.30 L274.69 333.30 L275.65 333.30 L276.61 333.30 L277.57 333.30 L278.53 333.30 L279.49 333.30 L280.45 333.30 L281.41 333.30 L282.37 333.30 L283.33 333.30 L284.29 333.30 L285.25 333.30 L286.21 333.30 L287.17 333.30 L288.13 333.30 L289.09 333.30 L290.05 333.30 L291.01 333.30 L291.97 333.30 L292.94 333.30 L293.90 333.30 L294.86 333.30 L295.82 333.30 L296.78 333.30 L297.74 333.30 L298.70 333.30 L299.66 333.30 L300.62 333.30 L301.58 333.30 L302.54 333.30 L303.50 333.30 L304.46 333.30 L305.42 333.30 L306.38 333.30 L307.34 333.30 L308.30 333.30 L309.26 333.30 L310.22 333.30 L311.18 333.30 L312.14 333.30 L313.10 333.30 L314.06 333.30 L315.02 333.30 L315.98 333.30 L316.94 333.30 L317.91 333.30 L318.87 333.30 L319.83 333.30 L320.79 333.30 L321.75 333.30 L322.71 333.30 L323.67 333.30 L324.63 333.30 L325.59 333.30 L326.55 333.30 L327.51 333.30 L328.47 333.30 L329.43 333.30 L330.39 333.30 L331.35 333.30 L332.31 333.30 L333.27 333.30 L334.23 333.30 L335.19 333.30 L336.15 333.30 L337.11 333.30 L338.07 333.30 L339.03 333.30 L339.99 333.30 L340.95 333.30 L341.91 333.30 L342.87 333.30 L343.84 333.30 L344.80 333.30 L345.76 333.30 L346.72 333.30 L347.68 333.30 L348.64 333.30 L349.60 333.30 L350.56 333.30 L351.52 333.30 L352.48 333.30 L353.44 333.30 L354.40 333.30 L355.36 333.30 L356.32 333.30 L357.28 333.30 L358.24 333.30 L359.20 333.30 L360.16 333.30 L361.12 333.30 L362.08 333.30 L363.04 333.30 L364.00 333.30 L364.96 333.30 L365.92 333.30 L366.88 333.30 L367.84 333.30 L368.81 333.30 L369.77 333.30 L370.73 333.30 L371.69 333.30 L372.65 333.30 L373.61 333.30 L374.57 333.30 L375.53 333.30 L376.49 333.30 L377.45 333.30 L378.41 333.30 L379.37 333.30 L380.33 333.30 L381.29 333.30 L382.25 333.30 L383.21 333.30 L384.17 333.30 L385.13 333.30 L386.09 333.30 L387.05 333.30 L388.01 333.30 L388.97 333.30 L389.93 333.30 L390.89 333.30 L391.85 333.30 L392.81 333.30 L393.78 333.30 L394.74 333.30 L395.70 333.30 L396.66 333.30 L397.62 333.30 L398.58 333.30 L399.54 333.30 L400.50 333.30 L401.46 333.30 L402.42 333.30 L403.38 333.30 L404.34 333.30 L405.30 333.30 L406.26 333.30 L407.22 333.30 L408.18 333.30 L409.14 333.30 L410.10 333.30 L411.06 333.30 L412.02 333.30 L412.98 333.30 L413.94 333.30 L414.90 333.30 L415.86 333.30 L416.82 333.30 L417.78 333.30 L418.75 333.30 L419.71 333.30 L420.67 333.30 L421.63 333.30 L422.59 333.30 L423.55 333.30 L424.51 333.30 L425.47 333.30 L426.43 333.30 L427.39 333.30 L428.35 333.30 L429.31 333.30 L430.27 333.30 L431.23 333.30 L432.19 333.30 L433.15 333.30 L434.11 333.30 L435.07 333.30 L436.03 333.30 L436.99 333.30 L437.95 333.30 L438.91 333.30 L439.87 333.30 L440.83 333.30 L441.79 333.30 L442.75 333.30 L443.72 333.30 L444.68 333.30 L445.64 333.30 L446.60 333.30 L447.56 333.30 L448.52 333.30 L449.48 333.30 L450.44 333.30 L451.40 333.30 L452.36 333.30 L453.32 333.30 L454.28 333.30 L455.24 333.30 L456.20 333.30" fill="none" stroke="#880088" stroke-width="2.2" stroke-dasharray="7 2.6" stroke-dashoffset="0" stroke-linejoin="round"/>
<line x1="76.44" x2="76.44" y1="416.5" y2="413.5" stroke="#444" stroke-width="0.8"/>
<line x1="143.66" x2="143.66" y1="416.5" y2="413.5" stroke="#444" stroke-width="0.8"/>
<line x1="194.50" x2="194.50" y1="416.5" y2="413.5" stroke="#444" stroke-width="0.8"/>
<line x1="245.34" x2="245.34" y1="416.5" y2="413.5" stroke="#444" stroke-width="0.8"/>
<line x1="312.56" x2="312.56" y1="416.5" y2="413.5" stroke="#444" stroke-width="0.8"/>
<line x1="363.40" x2="363.40" y1="416.5" y2="413.5" stroke="#444" stroke-width="0.8"/>
<line x1="414.24" x2="414.24" y1="416.5" y2="413.5" stroke="#444" stroke-width="0.8"/>
<line x1="443.99" x2="443.99" y1="416.5" y2="413.5" stroke="#444" stroke-width="0.8"/>
<line x1="47.5" x2="51.0" y1="333.55" y2="333.55" stroke="#444" stroke-width="0.8"/>
<line x1="47.5" x2="51.0" y1="360.85" y2="360.85" stroke="#444" stroke-width="0.8"/>
<line x1="47.5" x2="51.0" y1="381.50" y2="381.50" stroke="#444" stroke-width="0.8"/>
<path d="M47.5 313.0 H461.5 V416.5" fill="none" stroke="#a0a0a0" stroke-width="1"/>
<path d="M47.5 313.0 V416.5 H461.5" fill="none" stroke="#6a6a6a" stroke-width="0.9"/>
<text x="76.44" y="431.0" font-family='"Liberation Serif", serif' font-size="14" text-anchor="middle" fill="#000">2</text>
<text x="143.66" y="431.0" font-family='"Liberation Serif", serif' font-size="14" text-anchor="middle" fill="#000">5</text>
<text x="194.50" y="431.0" font-family='"Liberation Serif", serif' font-size="14" text-anchor="middle" fill="#000">10</text>
<text x="245.34" y="431.0" font-family='"Liberation Serif", serif' font-size="14" text-anchor="middle" fill="#000">20</text>
<text x="312.56" y="431.0" font-family='"Liberation Serif", serif' font-size="14" text-anchor="middle" fill="#000">50</text>
<text x="363.40" y="431.0" font-family='"Liberation Serif", serif' font-size="14" text-anchor="middle" fill="#000">100</text>
<text x="414.24" y="431.0" font-family='"Liberation Serif", serif' font-size="14" text-anchor="middle" fill="#000">200</text>
<text x="443.99" y="431.0" font-family='"Liberation Serif", serif' font-size="14" text-anchor="middle" fill="#000">300</text>
<text x="43.2" y="317.10" font-family='"Liberation Serif", serif' font-size="14" text-anchor="end" fill="#000">1.0</text>
<text x="43.2" y="337.75" font-family='"Liberation Serif", serif' font-size="14" text-anchor="end" fill="#000">0.5</text>
<text x="43.2" y="365.05" font-family='"Liberation Serif", serif' font-size="14" text-anchor="end" fill="#000">0.2</text>
<text x="43.2" y="385.70" font-family='"Liberation Serif", serif' font-size="14" text-anchor="end" fill="#000">0.1</text>
<text x="186.6" y="455.2" font-family='"Liberation Sans", sans-serif' font-size="14" fill="#000">Protocol time</text>
<text x="274.3" y="455.2" font-family='"Liberation Sans", sans-serif' font-style="italic" font-size="13.5" fill="#000">t</text>
<text x="279.7" y="458.2" font-family='"Liberation Sans", sans-serif' font-style="italic" font-size="9.5" fill="#000">f</text>
<text x="284.9" y="455.2" font-family='"Liberation Sans", sans-serif' font-size="14.5" fill="#000">(</text>
<text x="291.2" y="455.2" font-family='"Liberation Serif", serif' font-style="italic" font-size="16" fill="#000">ω</text>
<text x="302.2" y="449.2" font-family='"Liberation Sans", sans-serif' font-size="10" fill="#000">−</text>
<text x="309.6" y="449.2" font-family='"Liberation Sans", sans-serif' font-size="10" fill="#000">1</text>
<text x="302.4" y="458.5" font-family='"Liberation Sans", sans-serif' font-style="italic" font-size="10.5" fill="#000">c</text>
<text x="316.6" y="455.2" font-family='"Liberation Sans", sans-serif' font-size="14.5" fill="#000">)</text>
<g transform="translate(12.0,383.0) rotate(-90)">
<text x="0" y="0" font-family='"Liberation Serif", serif' font-size="14" fill="#000">Φ</text>
<text x="10.4" y="3.6" font-family='"Liberation Sans", sans-serif' font-size="9.5" fill="#000">q</text>
<text x="15.6" y="0" font-family='"Liberation Serif", serif' font-size="15" fill="#000">(</text>
<text x="21.2" y="0" font-family='"Liberation Sans", sans-serif' font-style="italic" font-size="14" fill="#000">t</text>
<text x="25.9" y="2.8" font-family='"Liberation Sans", sans-serif' font-style="italic" font-size="10" fill="#000">f</text>
<text x="30.4" y="0" font-family='"Liberation Serif", serif' font-size="15" fill="#000">)</text>
</g>
<text x="12.3" y="435.4" font-family='"Liberation Sans", sans-serif' font-size="15" fill="#000">(c)</text>
</svg>
</body></html>
